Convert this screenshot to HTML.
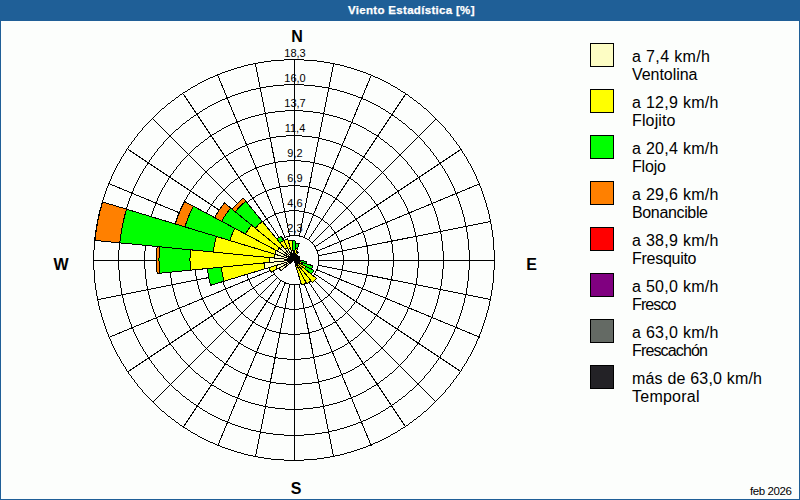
<!DOCTYPE html>
<html><head><meta charset="utf-8"><style>
html,body{margin:0;padding:0;width:800px;height:500px;overflow:hidden;background:#fcfefc;}
svg{position:absolute;left:0;top:0;font-family:"Liberation Sans",sans-serif;}
</style></head><body>
<svg width="800" height="500" viewBox="0 0 800 500">
<rect x="0" y="0" width="800" height="500" fill="#fcfefc"/>
<rect x="0" y="0" width="800" height="21" fill="#1f5f97"/>
<rect x="0" y="0" width="1" height="500" fill="#1f5f97"/>
<rect x="799" y="0" width="1" height="500" fill="#1f5f97"/>
<rect x="0" y="499" width="800" height="1" fill="#1f5f97"/>
<text x="348" y="14" font-size="11.5" font-weight="bold" fill="#fff" stroke="#fff" stroke-width="0.25" textLength="126.5" lengthAdjust="spacing">Viento Estadística [%]</text>
<g shape-rendering="crispEdges">
<path d="M284 59h20v1h-20zM271 60h13v1h-13zM304 60h13v1h-13zM264 61h7v1h-7zM317 61h7v1h-7zM258 62h6v1h-6zM324 62h6v1h-6zM253 63h5v1h-5zM330 63h5v1h-5zM248 64h5v1h-5zM335 64h5v1h-5zM244 65h4v1h-4zM340 65h4v1h-4zM241 66h3v1h-3zM344 66h3v1h-3zM237 67h4v1h-4zM347 67h4v1h-4zM234 68h3v1h-3zM351 68h3v1h-3zM231 69h3v1h-3zM354 69h3v1h-3zM228 70h3v1h-3zM357 70h3v1h-3zM225 71h3v1h-3zM360 71h3v1h-3zM222 72h3v1h-3zM363 72h3v1h-3zM220 73h2v1h-2zM366 73h2v1h-2zM217 74h3v1h-3zM368 74h3v1h-3zM215 75h2v1h-2zM371 75h2v1h-2zM213 76h2v1h-2zM373 76h2v1h-2zM210 77h3v1h-3zM375 77h3v1h-3zM208 78h2v1h-2zM378 78h2v1h-2zM206 79h2v1h-2zM380 79h2v1h-2zM204 80h2v1h-2zM382 80h2v1h-2zM202 81h2v1h-2zM384 81h2v1h-2zM200 82h2v1h-2zM386 82h2v1h-2zM198 83h2v1h-2zM388 83h2v1h-2zM197 84h1v1h-1zM284 84h20v1h-20zM390 84h1v1h-1zM195 85h2v1h-2zM273 85h11v1h-11zM304 85h11v1h-11zM391 85h2v1h-2zM193 86h2v1h-2zM266 86h7v1h-7zM315 86h7v1h-7zM393 86h2v1h-2zM191 87h2v1h-2zM260 87h6v1h-6zM322 87h6v1h-6zM395 87h2v1h-2zM190 88h1v1h-1zM256 88h4v1h-4zM328 88h4v1h-4zM397 88h1v1h-1zM188 89h2v1h-2zM251 89h5v1h-5zM332 89h5v1h-5zM398 89h2v1h-2zM187 90h1v1h-1zM248 90h3v1h-3zM337 90h3v1h-3zM400 90h1v1h-1zM185 91h2v1h-2zM244 91h4v1h-4zM340 91h4v1h-4zM401 91h2v1h-2zM183 92h2v1h-2zM241 92h3v1h-3zM344 92h3v1h-3zM403 92h2v1h-2zM182 93h1v1h-1zM238 93h3v1h-3zM347 93h3v1h-3zM405 93h1v1h-1zM180 94h2v1h-2zM235 94h3v1h-3zM350 94h3v1h-3zM406 94h2v1h-2zM179 95h1v1h-1zM232 95h3v1h-3zM353 95h3v1h-3zM408 95h1v1h-1zM178 96h1v1h-1zM230 96h2v1h-2zM356 96h2v1h-2zM409 96h1v1h-1zM176 97h2v1h-2zM227 97h3v1h-3zM358 97h3v1h-3zM410 97h2v1h-2zM175 98h1v1h-1zM225 98h2v1h-2zM361 98h2v1h-2zM412 98h1v1h-1zM174 99h1v1h-1zM222 99h3v1h-3zM363 99h3v1h-3zM413 99h1v1h-1zM172 100h2v1h-2zM220 100h2v1h-2zM366 100h2v1h-2zM414 100h2v1h-2zM171 101h1v1h-1zM218 101h2v1h-2zM368 101h2v1h-2zM416 101h1v1h-1zM170 102h1v1h-1zM216 102h2v1h-2zM370 102h2v1h-2zM417 102h1v1h-1zM168 103h2v1h-2zM214 103h2v1h-2zM372 103h2v1h-2zM418 103h2v1h-2zM167 104h1v1h-1zM212 104h2v1h-2zM374 104h2v1h-2zM420 104h1v1h-1zM166 105h1v1h-1zM210 105h2v1h-2zM376 105h2v1h-2zM421 105h1v1h-1zM165 106h1v1h-1zM208 106h2v1h-2zM378 106h2v1h-2zM422 106h1v1h-1zM164 107h1v1h-1zM207 107h1v1h-1zM380 107h1v1h-1zM423 107h1v1h-1zM162 108h2v1h-2zM205 108h2v1h-2zM381 108h2v1h-2zM424 108h2v1h-2zM161 109h1v1h-1zM203 109h2v1h-2zM383 109h2v1h-2zM426 109h1v1h-1zM160 110h1v1h-1zM202 110h1v1h-1zM285 110h18v1h-18zM385 110h1v1h-1zM427 110h1v1h-1zM159 111h1v1h-1zM200 111h2v1h-2zM275 111h10v1h-10zM303 111h10v1h-10zM386 111h2v1h-2zM428 111h1v1h-1zM158 112h1v1h-1zM199 112h1v1h-1zM268 112h7v1h-7zM313 112h7v1h-7zM388 112h1v1h-1zM429 112h1v1h-1zM157 113h1v1h-1zM197 113h2v1h-2zM263 113h5v1h-5zM320 113h5v1h-5zM389 113h2v1h-2zM430 113h1v1h-1zM156 114h1v1h-1zM196 114h1v1h-1zM259 114h4v1h-4zM325 114h4v1h-4zM391 114h1v1h-1zM431 114h1v1h-1zM155 115h1v1h-1zM194 115h2v1h-2zM255 115h4v1h-4zM329 115h4v1h-4zM392 115h2v1h-2zM432 115h1v1h-1zM154 116h1v1h-1zM193 116h1v1h-1zM251 116h4v1h-4zM333 116h4v1h-4zM394 116h1v1h-1zM433 116h1v1h-1zM153 117h1v1h-1zM191 117h2v1h-2zM248 117h3v1h-3zM337 117h3v1h-3zM395 117h2v1h-2zM434 117h1v1h-1zM152 118h1v1h-1zM190 118h1v1h-1zM245 118h3v1h-3zM340 118h3v1h-3zM397 118h1v1h-1zM435 118h1v1h-1zM151 119h1v1h-1zM189 119h1v1h-1zM242 119h3v1h-3zM343 119h3v1h-3zM398 119h1v1h-1zM436 119h1v1h-1zM150 120h1v1h-1zM187 120h2v1h-2zM240 120h2v1h-2zM346 120h2v1h-2zM399 120h2v1h-2zM437 120h1v1h-1zM149 121h1v1h-1zM186 121h1v1h-1zM237 121h3v1h-3zM348 121h3v1h-3zM401 121h1v1h-1zM438 121h1v1h-1zM148 122h1v1h-1zM185 122h1v1h-1zM235 122h2v1h-2zM351 122h2v1h-2zM402 122h1v1h-1zM439 122h1v1h-1zM147 123h1v1h-1zM183 123h2v1h-2zM232 123h3v1h-3zM353 123h3v1h-3zM403 123h2v1h-2zM440 123h1v1h-1zM146 124h1v1h-1zM182 124h1v1h-1zM230 124h2v1h-2zM356 124h2v1h-2zM405 124h1v1h-1zM441 124h1v1h-1zM145 125h1v1h-1zM181 125h1v1h-1zM228 125h2v1h-2zM358 125h2v1h-2zM406 125h1v1h-1zM442 125h1v1h-1zM144 126h1v1h-1zM180 126h1v1h-1zM226 126h2v1h-2zM360 126h2v1h-2zM407 126h1v1h-1zM443 126h1v1h-1zM143 127h1v1h-1zM179 127h1v1h-1zM224 127h2v1h-2zM362 127h2v1h-2zM408 127h1v1h-1zM444 127h1v1h-1zM142 128h1v1h-1zM178 128h1v1h-1zM222 128h2v1h-2zM364 128h2v1h-2zM409 128h1v1h-1zM445 128h1v1h-1zM142 129h1v1h-1zM176 129h2v1h-2zM221 129h1v1h-1zM366 129h1v1h-1zM410 129h2v1h-2zM445 129h1v1h-1zM141 130h1v1h-1zM175 130h1v1h-1zM219 130h2v1h-2zM367 130h2v1h-2zM412 130h1v1h-1zM446 130h1v1h-1zM140 131h1v1h-1zM174 131h1v1h-1zM217 131h2v1h-2zM369 131h2v1h-2zM413 131h1v1h-1zM447 131h1v1h-1zM139 132h1v1h-1zM173 132h1v1h-1zM216 132h1v1h-1zM371 132h1v1h-1zM414 132h1v1h-1zM448 132h1v1h-1zM138 133h1v1h-1zM172 133h1v1h-1zM214 133h2v1h-2zM372 133h2v1h-2zM415 133h1v1h-1zM449 133h1v1h-1zM137 134h1v1h-1zM171 134h1v1h-1zM212 134h2v1h-2zM374 134h2v1h-2zM416 134h1v1h-1zM450 134h1v1h-1zM137 135h1v1h-1zM170 135h1v1h-1zM211 135h1v1h-1zM286 135h16v1h-16zM376 135h1v1h-1zM417 135h1v1h-1zM450 135h1v1h-1zM136 136h1v1h-1zM169 136h1v1h-1zM209 136h2v1h-2zM276 136h10v1h-10zM302 136h10v1h-10zM377 136h2v1h-2zM418 136h1v1h-1zM451 136h1v1h-1zM135 137h1v1h-1zM168 137h1v1h-1zM208 137h1v1h-1zM270 137h6v1h-6zM312 137h6v1h-6zM379 137h1v1h-1zM419 137h1v1h-1zM452 137h1v1h-1zM134 138h1v1h-1zM167 138h1v1h-1zM207 138h1v1h-1zM266 138h4v1h-4zM318 138h4v1h-4zM380 138h1v1h-1zM420 138h1v1h-1zM453 138h1v1h-1zM134 139h1v1h-1zM166 139h1v1h-1zM205 139h2v1h-2zM262 139h4v1h-4zM322 139h4v1h-4zM381 139h2v1h-2zM421 139h1v1h-1zM453 139h1v1h-1zM133 140h1v1h-1zM165 140h1v1h-1zM204 140h1v1h-1zM258 140h4v1h-4zM326 140h4v1h-4zM383 140h1v1h-1zM422 140h1v1h-1zM454 140h1v1h-1zM132 141h1v1h-1zM164 141h1v1h-1zM203 141h1v1h-1zM255 141h3v1h-3zM330 141h3v1h-3zM384 141h1v1h-1zM423 141h1v1h-1zM455 141h1v1h-1zM131 142h1v1h-1zM163 142h1v1h-1zM201 142h2v1h-2zM252 142h3v1h-3zM333 142h3v1h-3zM385 142h2v1h-2zM424 142h1v1h-1zM456 142h1v1h-1zM131 143h1v1h-1zM163 143h1v1h-1zM200 143h1v1h-1zM249 143h3v1h-3zM336 143h3v1h-3zM387 143h1v1h-1zM424 143h1v1h-1zM456 143h1v1h-1zM130 144h1v1h-1zM162 144h1v1h-1zM199 144h1v1h-1zM247 144h2v1h-2zM339 144h2v1h-2zM388 144h1v1h-1zM425 144h1v1h-1zM457 144h1v1h-1zM129 145h1v1h-1zM161 145h1v1h-1zM198 145h1v1h-1zM245 145h2v1h-2zM341 145h2v1h-2zM389 145h1v1h-1zM426 145h1v1h-1zM458 145h1v1h-1zM128 146h1v1h-1zM160 146h1v1h-1zM196 146h2v1h-2zM242 146h3v1h-3zM343 146h3v1h-3zM390 146h2v1h-2zM427 146h1v1h-1zM459 146h1v1h-1zM128 147h1v1h-1zM159 147h1v1h-1zM195 147h1v1h-1zM240 147h2v1h-2zM346 147h2v1h-2zM392 147h1v1h-1zM428 147h1v1h-1zM459 147h1v1h-1zM127 148h1v1h-1zM158 148h1v1h-1zM194 148h1v1h-1zM238 148h2v1h-2zM348 148h2v1h-2zM393 148h1v1h-1zM429 148h1v1h-1zM460 148h1v1h-1zM126 149h1v1h-1zM157 149h1v1h-1zM193 149h1v1h-1zM236 149h2v1h-2zM350 149h2v1h-2zM394 149h1v1h-1zM430 149h1v1h-1zM461 149h1v1h-1zM126 150h1v1h-1zM157 150h1v1h-1zM192 150h1v1h-1zM234 150h2v1h-2zM352 150h2v1h-2zM395 150h1v1h-1zM430 150h1v1h-1zM461 150h1v1h-1zM125 151h1v1h-1zM156 151h1v1h-1zM191 151h1v1h-1zM233 151h1v1h-1zM354 151h1v1h-1zM396 151h1v1h-1zM431 151h1v1h-1zM462 151h1v1h-1zM125 152h1v1h-1zM155 152h1v1h-1zM190 152h1v1h-1zM231 152h2v1h-2zM355 152h2v1h-2zM397 152h1v1h-1zM432 152h1v1h-1zM462 152h1v1h-1zM124 153h1v1h-1zM154 153h1v1h-1zM189 153h1v1h-1zM229 153h2v1h-2zM357 153h2v1h-2zM398 153h1v1h-1zM433 153h1v1h-1zM463 153h1v1h-1zM123 154h1v1h-1zM154 154h1v1h-1zM188 154h1v1h-1zM228 154h1v1h-1zM359 154h1v1h-1zM399 154h1v1h-1zM433 154h1v1h-1zM464 154h1v1h-1zM123 155h1v1h-1zM153 155h1v1h-1zM187 155h1v1h-1zM226 155h2v1h-2zM360 155h2v1h-2zM400 155h1v1h-1zM434 155h1v1h-1zM464 155h1v1h-1zM122 156h1v1h-1zM152 156h1v1h-1zM186 156h1v1h-1zM224 156h2v1h-2zM362 156h2v1h-2zM401 156h1v1h-1zM435 156h1v1h-1zM465 156h1v1h-1zM121 157h1v1h-1zM151 157h1v1h-1zM185 157h1v1h-1zM223 157h1v1h-1zM364 157h1v1h-1zM402 157h1v1h-1zM436 157h1v1h-1zM466 157h1v1h-1zM121 158h1v1h-1zM151 158h1v1h-1zM184 158h1v1h-1zM222 158h1v1h-1zM365 158h1v1h-1zM403 158h1v1h-1zM436 158h1v1h-1zM466 158h1v1h-1zM120 159h1v1h-1zM150 159h1v1h-1zM183 159h1v1h-1zM220 159h2v1h-2zM366 159h2v1h-2zM404 159h1v1h-1zM437 159h1v1h-1zM467 159h1v1h-1zM120 160h1v1h-1zM149 160h1v1h-1zM182 160h1v1h-1zM219 160h1v1h-1zM287 160h14v1h-14zM368 160h1v1h-1zM405 160h1v1h-1zM438 160h1v1h-1zM467 160h1v1h-1zM119 161h1v1h-1zM149 161h1v1h-1zM181 161h1v1h-1zM218 161h1v1h-1zM278 161h9v1h-9zM301 161h9v1h-9zM369 161h1v1h-1zM406 161h1v1h-1zM438 161h1v1h-1zM468 161h1v1h-1zM119 162h1v1h-1zM148 162h1v1h-1zM180 162h1v1h-1zM216 162h2v1h-2zM273 162h5v1h-5zM310 162h5v1h-5zM370 162h2v1h-2zM407 162h1v1h-1zM439 162h1v1h-1zM468 162h1v1h-1zM118 163h1v1h-1zM147 163h1v1h-1zM180 163h1v1h-1zM215 163h1v1h-1zM269 163h4v1h-4zM315 163h4v1h-4zM372 163h1v1h-1zM407 163h1v1h-1zM440 163h1v1h-1zM469 163h1v1h-1zM117 164h1v1h-1zM147 164h1v1h-1zM179 164h1v1h-1zM214 164h1v1h-1zM265 164h4v1h-4zM319 164h4v1h-4zM373 164h1v1h-1zM408 164h1v1h-1zM440 164h1v1h-1zM470 164h1v1h-1zM117 165h1v1h-1zM146 165h1v1h-1zM178 165h1v1h-1zM213 165h1v1h-1zM262 165h3v1h-3zM323 165h3v1h-3zM374 165h1v1h-1zM409 165h1v1h-1zM441 165h1v1h-1zM470 165h1v1h-1zM116 166h1v1h-1zM145 166h1v1h-1zM177 166h1v1h-1zM212 166h1v1h-1zM259 166h3v1h-3zM326 166h3v1h-3zM375 166h1v1h-1zM410 166h1v1h-1zM442 166h1v1h-1zM471 166h1v1h-1zM116 167h1v1h-1zM145 167h1v1h-1zM176 167h1v1h-1zM210 167h2v1h-2zM257 167h2v1h-2zM329 167h2v1h-2zM376 167h2v1h-2zM411 167h1v1h-1zM442 167h1v1h-1zM471 167h1v1h-1zM115 168h1v1h-1zM144 168h1v1h-1zM176 168h1v1h-1zM209 168h1v1h-1zM254 168h3v1h-3zM331 168h3v1h-3zM378 168h1v1h-1zM411 168h1v1h-1zM443 168h1v1h-1zM472 168h1v1h-1zM115 169h1v1h-1zM143 169h1v1h-1zM175 169h1v1h-1zM208 169h1v1h-1zM252 169h2v1h-2zM334 169h2v1h-2zM379 169h1v1h-1zM412 169h1v1h-1zM444 169h1v1h-1zM472 169h1v1h-1zM114 170h1v1h-1zM143 170h1v1h-1zM174 170h1v1h-1zM207 170h1v1h-1zM250 170h2v1h-2zM336 170h2v1h-2zM380 170h1v1h-1zM413 170h1v1h-1zM444 170h1v1h-1zM473 170h1v1h-1zM114 171h1v1h-1zM142 171h1v1h-1zM173 171h1v1h-1zM206 171h1v1h-1zM248 171h2v1h-2zM338 171h2v1h-2zM381 171h1v1h-1zM414 171h1v1h-1zM445 171h1v1h-1zM473 171h1v1h-1zM113 172h1v1h-1zM142 172h1v1h-1zM173 172h1v1h-1zM205 172h1v1h-1zM246 172h2v1h-2zM340 172h2v1h-2zM382 172h1v1h-1zM414 172h1v1h-1zM445 172h1v1h-1zM474 172h1v1h-1zM113 173h1v1h-1zM141 173h1v1h-1zM172 173h1v1h-1zM204 173h1v1h-1zM244 173h2v1h-2zM342 173h2v1h-2zM383 173h1v1h-1zM415 173h1v1h-1zM446 173h1v1h-1zM474 173h1v1h-1zM112 174h1v1h-1zM140 174h1v1h-1zM171 174h1v1h-1zM203 174h1v1h-1zM243 174h1v1h-1zM344 174h1v1h-1zM384 174h1v1h-1zM416 174h1v1h-1zM447 174h1v1h-1zM475 174h1v1h-1zM112 175h1v1h-1zM140 175h1v1h-1zM170 175h1v1h-1zM202 175h1v1h-1zM241 175h2v1h-2zM345 175h2v1h-2zM385 175h1v1h-1zM417 175h1v1h-1zM447 175h1v1h-1zM475 175h1v1h-1zM111 176h1v1h-1zM139 176h1v1h-1zM170 176h1v1h-1zM201 176h1v1h-1zM240 176h1v1h-1zM347 176h1v1h-1zM386 176h1v1h-1zM417 176h1v1h-1zM448 176h1v1h-1zM476 176h1v1h-1zM111 177h1v1h-1zM139 177h1v1h-1zM169 177h1v1h-1zM201 177h1v1h-1zM238 177h2v1h-2zM348 177h2v1h-2zM386 177h1v1h-1zM418 177h1v1h-1zM448 177h1v1h-1zM476 177h1v1h-1zM111 178h1v1h-1zM138 178h1v1h-1zM168 178h1v1h-1zM200 178h1v1h-1zM237 178h1v1h-1zM350 178h1v1h-1zM387 178h1v1h-1zM419 178h1v1h-1zM449 178h1v1h-1zM476 178h1v1h-1zM110 179h1v1h-1zM138 179h1v1h-1zM168 179h1v1h-1zM199 179h1v1h-1zM235 179h2v1h-2zM351 179h2v1h-2zM388 179h1v1h-1zM419 179h1v1h-1zM449 179h1v1h-1zM477 179h1v1h-1zM110 180h1v1h-1zM137 180h1v1h-1zM167 180h1v1h-1zM198 180h1v1h-1zM234 180h1v1h-1zM353 180h1v1h-1zM389 180h1v1h-1zM420 180h1v1h-1zM450 180h1v1h-1zM477 180h1v1h-1zM109 181h1v1h-1zM137 181h1v1h-1zM167 181h1v1h-1zM197 181h1v1h-1zM233 181h1v1h-1zM354 181h1v1h-1zM390 181h1v1h-1zM420 181h1v1h-1zM450 181h1v1h-1zM478 181h1v1h-1zM109 182h1v1h-1zM136 182h1v1h-1zM166 182h1v1h-1zM196 182h1v1h-1zM231 182h2v1h-2zM355 182h2v1h-2zM391 182h1v1h-1zM421 182h1v1h-1zM451 182h1v1h-1zM478 182h1v1h-1zM108 183h1v1h-1zM136 183h1v1h-1zM165 183h1v1h-1zM196 183h1v1h-1zM230 183h1v1h-1zM357 183h1v1h-1zM391 183h1v1h-1zM422 183h1v1h-1zM451 183h1v1h-1zM479 183h1v1h-1zM108 184h1v1h-1zM135 184h1v1h-1zM165 184h1v1h-1zM195 184h1v1h-1zM229 184h1v1h-1zM358 184h1v1h-1zM392 184h1v1h-1zM422 184h1v1h-1zM452 184h1v1h-1zM479 184h1v1h-1zM108 185h1v1h-1zM135 185h1v1h-1zM164 185h1v1h-1zM194 185h1v1h-1zM228 185h1v1h-1zM288 185h12v1h-12zM359 185h1v1h-1zM393 185h1v1h-1zM423 185h1v1h-1zM452 185h1v1h-1zM479 185h1v1h-1zM107 186h1v1h-1zM134 186h1v1h-1zM164 186h1v1h-1zM193 186h1v1h-1zM227 186h1v1h-1zM280 186h8v1h-8zM300 186h8v1h-8zM360 186h1v1h-1zM394 186h1v1h-1zM423 186h1v1h-1zM453 186h1v1h-1zM480 186h1v1h-1zM107 187h1v1h-1zM134 187h1v1h-1zM163 187h1v1h-1zM193 187h1v1h-1zM226 187h1v1h-1zM276 187h4v1h-4zM308 187h4v1h-4zM361 187h1v1h-1zM394 187h1v1h-1zM424 187h1v1h-1zM453 187h1v1h-1zM480 187h1v1h-1zM106 188h1v1h-1zM133 188h1v1h-1zM162 188h1v1h-1zM192 188h1v1h-1zM225 188h1v1h-1zM272 188h4v1h-4zM312 188h4v1h-4zM362 188h1v1h-1zM395 188h1v1h-1zM425 188h1v1h-1zM454 188h1v1h-1zM481 188h1v1h-1zM106 189h1v1h-1zM133 189h1v1h-1zM162 189h1v1h-1zM191 189h1v1h-1zM224 189h1v1h-1zM269 189h3v1h-3zM316 189h3v1h-3zM363 189h1v1h-1zM396 189h1v1h-1zM425 189h1v1h-1zM454 189h1v1h-1zM481 189h1v1h-1zM106 190h1v1h-1zM133 190h1v1h-1zM161 190h1v1h-1zM190 190h1v1h-1zM223 190h1v1h-1zM267 190h2v1h-2zM319 190h2v1h-2zM364 190h1v1h-1zM397 190h1v1h-1zM426 190h1v1h-1zM454 190h1v1h-1zM481 190h1v1h-1zM105 191h1v1h-1zM132 191h1v1h-1zM161 191h1v1h-1zM190 191h1v1h-1zM222 191h1v1h-1zM264 191h3v1h-3zM321 191h3v1h-3zM365 191h1v1h-1zM397 191h1v1h-1zM426 191h1v1h-1zM455 191h1v1h-1zM482 191h1v1h-1zM105 192h1v1h-1zM132 192h1v1h-1zM160 192h1v1h-1zM189 192h1v1h-1zM221 192h1v1h-1zM262 192h2v1h-2zM324 192h2v1h-2zM366 192h1v1h-1zM398 192h1v1h-1zM427 192h1v1h-1zM455 192h1v1h-1zM482 192h1v1h-1zM105 193h1v1h-1zM131 193h1v1h-1zM160 193h1v1h-1zM189 193h1v1h-1zM220 193h1v1h-1zM260 193h2v1h-2zM326 193h2v1h-2zM367 193h1v1h-1zM398 193h1v1h-1zM427 193h1v1h-1zM456 193h1v1h-1zM482 193h1v1h-1zM104 194h1v1h-1zM131 194h1v1h-1zM159 194h1v1h-1zM188 194h1v1h-1zM219 194h1v1h-1zM258 194h2v1h-2zM328 194h2v1h-2zM368 194h1v1h-1zM399 194h1v1h-1zM428 194h1v1h-1zM456 194h1v1h-1zM483 194h1v1h-1zM104 195h1v1h-1zM131 195h1v1h-1zM159 195h1v1h-1zM187 195h1v1h-1zM218 195h1v1h-1zM256 195h2v1h-2zM330 195h2v1h-2zM369 195h1v1h-1zM400 195h1v1h-1zM428 195h1v1h-1zM456 195h1v1h-1zM483 195h1v1h-1zM104 196h1v1h-1zM130 196h1v1h-1zM158 196h1v1h-1zM187 196h1v1h-1zM217 196h1v1h-1zM255 196h1v1h-1zM332 196h1v1h-1zM370 196h1v1h-1zM400 196h1v1h-1zM429 196h1v1h-1zM457 196h1v1h-1zM483 196h1v1h-1zM103 197h1v1h-1zM130 197h1v1h-1zM158 197h1v1h-1zM186 197h1v1h-1zM216 197h1v1h-1zM253 197h2v1h-2zM333 197h2v1h-2zM371 197h1v1h-1zM401 197h1v1h-1zM429 197h1v1h-1zM457 197h1v1h-1zM484 197h1v1h-1zM103 198h1v1h-1zM129 198h1v1h-1zM157 198h1v1h-1zM186 198h1v1h-1zM216 198h1v1h-1zM252 198h1v1h-1zM335 198h1v1h-1zM371 198h1v1h-1zM401 198h1v1h-1zM430 198h1v1h-1zM458 198h1v1h-1zM484 198h1v1h-1zM103 199h1v1h-1zM129 199h1v1h-1zM157 199h1v1h-1zM185 199h1v1h-1zM215 199h1v1h-1zM250 199h2v1h-2zM336 199h2v1h-2zM372 199h1v1h-1zM402 199h1v1h-1zM430 199h1v1h-1zM458 199h1v1h-1zM484 199h1v1h-1zM102 200h1v1h-1zM129 200h1v1h-1zM157 200h1v1h-1zM184 200h1v1h-1zM214 200h1v1h-1zM249 200h1v1h-1zM338 200h1v1h-1zM373 200h1v1h-1zM403 200h1v1h-1zM430 200h1v1h-1zM458 200h1v1h-1zM485 200h1v1h-1zM102 201h1v1h-1zM128 201h1v1h-1zM156 201h1v1h-1zM184 201h1v1h-1zM213 201h1v1h-1zM248 201h1v1h-1zM339 201h1v1h-1zM374 201h1v1h-1zM403 201h1v1h-1zM431 201h1v1h-1zM459 201h1v1h-1zM485 201h1v1h-1zM102 202h1v1h-1zM128 202h1v1h-1zM156 202h1v1h-1zM183 202h1v1h-1zM213 202h1v1h-1zM246 202h2v1h-2zM340 202h2v1h-2zM374 202h1v1h-1zM404 202h1v1h-1zM431 202h1v1h-1zM459 202h1v1h-1zM485 202h1v1h-1zM101 203h1v1h-1zM128 203h1v1h-1zM155 203h1v1h-1zM183 203h1v1h-1zM212 203h1v1h-1zM245 203h1v1h-1zM342 203h1v1h-1zM375 203h1v1h-1zM404 203h1v1h-1zM432 203h1v1h-1zM459 203h1v1h-1zM486 203h1v1h-1zM101 204h1v1h-1zM127 204h1v1h-1zM155 204h1v1h-1zM182 204h1v1h-1zM211 204h1v1h-1zM244 204h1v1h-1zM343 204h1v1h-1zM376 204h1v1h-1zM405 204h1v1h-1zM432 204h1v1h-1zM460 204h1v1h-1zM486 204h1v1h-1zM101 205h1v1h-1zM127 205h1v1h-1zM155 205h1v1h-1zM182 205h1v1h-1zM211 205h1v1h-1zM243 205h1v1h-1zM344 205h1v1h-1zM376 205h1v1h-1zM405 205h1v1h-1zM432 205h1v1h-1zM460 205h1v1h-1zM486 205h1v1h-1zM101 206h1v1h-1zM127 206h1v1h-1zM154 206h1v1h-1zM181 206h1v1h-1zM210 206h1v1h-1zM242 206h1v1h-1zM345 206h1v1h-1zM377 206h1v1h-1zM406 206h1v1h-1zM433 206h1v1h-1zM460 206h1v1h-1zM486 206h1v1h-1zM100 207h1v1h-1zM126 207h1v1h-1zM154 207h1v1h-1zM181 207h1v1h-1zM209 207h1v1h-1zM241 207h1v1h-1zM346 207h1v1h-1zM378 207h1v1h-1zM406 207h1v1h-1zM433 207h1v1h-1zM461 207h1v1h-1zM487 207h1v1h-1zM100 208h1v1h-1zM126 208h1v1h-1zM153 208h1v1h-1zM180 208h1v1h-1zM209 208h1v1h-1zM240 208h1v1h-1zM347 208h1v1h-1zM378 208h1v1h-1zM407 208h1v1h-1zM434 208h1v1h-1zM461 208h1v1h-1zM487 208h1v1h-1zM100 209h1v1h-1zM126 209h1v1h-1zM153 209h1v1h-1zM180 209h1v1h-1zM208 209h1v1h-1zM239 209h1v1h-1zM348 209h1v1h-1zM379 209h1v1h-1zM407 209h1v1h-1zM434 209h1v1h-1zM461 209h1v1h-1zM487 209h1v1h-1zM99 210h1v1h-1zM125 210h1v1h-1zM153 210h1v1h-1zM180 210h1v1h-1zM207 210h1v1h-1zM238 210h1v1h-1zM289 210h10v1h-10zM349 210h1v1h-1zM380 210h1v1h-1zM407 210h1v1h-1zM434 210h1v1h-1zM462 210h1v1h-1zM488 210h1v1h-1zM99 211h1v1h-1zM125 211h1v1h-1zM152 211h1v1h-1zM179 211h1v1h-1zM207 211h1v1h-1zM237 211h1v1h-1zM283 211h6v1h-6zM299 211h6v1h-6zM350 211h1v1h-1zM380 211h1v1h-1zM408 211h1v1h-1zM435 211h1v1h-1zM462 211h1v1h-1zM488 211h1v1h-1zM99 212h1v1h-1zM125 212h1v1h-1zM152 212h1v1h-1zM179 212h1v1h-1zM206 212h1v1h-1zM236 212h1v1h-1zM279 212h4v1h-4zM305 212h4v1h-4zM351 212h1v1h-1zM381 212h1v1h-1zM408 212h1v1h-1zM435 212h1v1h-1zM462 212h1v1h-1zM488 212h1v1h-1zM99 213h1v1h-1zM125 213h1v1h-1zM152 213h1v1h-1zM178 213h1v1h-1zM206 213h1v1h-1zM236 213h1v1h-1zM276 213h3v1h-3zM309 213h3v1h-3zM351 213h1v1h-1zM381 213h1v1h-1zM409 213h1v1h-1zM435 213h1v1h-1zM462 213h1v1h-1zM488 213h1v1h-1zM98 214h1v1h-1zM124 214h1v1h-1zM151 214h1v1h-1zM178 214h1v1h-1zM205 214h1v1h-1zM235 214h1v1h-1zM274 214h2v1h-2zM312 214h2v1h-2zM352 214h1v1h-1zM382 214h1v1h-1zM409 214h1v1h-1zM436 214h1v1h-1zM463 214h1v1h-1zM489 214h1v1h-1zM98 215h1v1h-1zM124 215h1v1h-1zM151 215h1v1h-1zM177 215h1v1h-1zM205 215h1v1h-1zM234 215h1v1h-1zM272 215h2v1h-2zM314 215h2v1h-2zM353 215h1v1h-1zM382 215h1v1h-1zM410 215h1v1h-1zM436 215h1v1h-1zM463 215h1v1h-1zM489 215h1v1h-1zM98 216h1v1h-1zM124 216h1v1h-1zM151 216h1v1h-1zM177 216h1v1h-1zM204 216h1v1h-1zM233 216h1v1h-1zM270 216h2v1h-2zM316 216h2v1h-2zM354 216h1v1h-1zM383 216h1v1h-1zM410 216h1v1h-1zM436 216h1v1h-1zM463 216h1v1h-1zM489 216h1v1h-1zM98 217h1v1h-1zM123 217h1v1h-1zM150 217h1v1h-1zM177 217h1v1h-1zM204 217h1v1h-1zM233 217h1v1h-1zM268 217h2v1h-2zM318 217h2v1h-2zM354 217h1v1h-1zM383 217h1v1h-1zM410 217h1v1h-1zM437 217h1v1h-1zM464 217h1v1h-1zM489 217h1v1h-1zM98 218h1v1h-1zM123 218h1v1h-1zM150 218h1v1h-1zM176 218h1v1h-1zM203 218h1v1h-1zM232 218h1v1h-1zM267 218h1v1h-1zM320 218h1v1h-1zM355 218h1v1h-1zM384 218h1v1h-1zM411 218h1v1h-1zM437 218h1v1h-1zM464 218h1v1h-1zM489 218h1v1h-1zM97 219h1v1h-1zM123 219h1v1h-1zM150 219h1v1h-1zM176 219h1v1h-1zM203 219h1v1h-1zM231 219h1v1h-1zM265 219h2v1h-2zM321 219h2v1h-2zM356 219h1v1h-1zM384 219h1v1h-1zM411 219h1v1h-1zM437 219h1v1h-1zM464 219h1v1h-1zM490 219h1v1h-1zM97 220h1v1h-1zM123 220h1v1h-1zM150 220h1v1h-1zM176 220h1v1h-1zM202 220h1v1h-1zM231 220h1v1h-1zM264 220h1v1h-1zM323 220h1v1h-1zM356 220h1v1h-1zM385 220h1v1h-1zM411 220h1v1h-1zM437 220h1v1h-1zM464 220h1v1h-1zM490 220h1v1h-1zM97 221h1v1h-1zM123 221h1v1h-1zM149 221h1v1h-1zM175 221h1v1h-1zM202 221h1v1h-1zM230 221h1v1h-1zM263 221h1v1h-1zM324 221h1v1h-1zM357 221h1v1h-1zM385 221h1v1h-1zM412 221h1v1h-1zM438 221h1v1h-1zM464 221h1v1h-1zM490 221h1v1h-1zM97 222h1v1h-1zM122 222h1v1h-1zM149 222h1v1h-1zM175 222h1v1h-1zM202 222h1v1h-1zM229 222h1v1h-1zM261 222h2v1h-2zM325 222h2v1h-2zM358 222h1v1h-1zM385 222h1v1h-1zM412 222h1v1h-1zM438 222h1v1h-1zM465 222h1v1h-1zM490 222h1v1h-1zM97 223h1v1h-1zM122 223h1v1h-1zM149 223h1v1h-1zM175 223h1v1h-1zM201 223h1v1h-1zM229 223h1v1h-1zM260 223h1v1h-1zM327 223h1v1h-1zM358 223h1v1h-1zM386 223h1v1h-1zM412 223h1v1h-1zM438 223h1v1h-1zM465 223h1v1h-1zM490 223h1v1h-1zM96 224h1v1h-1zM122 224h1v1h-1zM149 224h1v1h-1zM174 224h1v1h-1zM201 224h1v1h-1zM228 224h1v1h-1zM259 224h1v1h-1zM328 224h1v1h-1zM359 224h1v1h-1zM386 224h1v1h-1zM413 224h1v1h-1zM438 224h1v1h-1zM465 224h1v1h-1zM491 224h1v1h-1zM96 225h1v1h-1zM122 225h1v1h-1zM148 225h1v1h-1zM174 225h1v1h-1zM200 225h1v1h-1zM228 225h1v1h-1zM258 225h1v1h-1zM329 225h1v1h-1zM359 225h1v1h-1zM387 225h1v1h-1zM413 225h1v1h-1zM439 225h1v1h-1zM465 225h1v1h-1zM491 225h1v1h-1zM96 226h1v1h-1zM121 226h1v1h-1zM148 226h1v1h-1zM174 226h1v1h-1zM200 226h1v1h-1zM227 226h1v1h-1zM257 226h1v1h-1zM330 226h1v1h-1zM360 226h1v1h-1zM387 226h1v1h-1zM413 226h1v1h-1zM439 226h1v1h-1zM466 226h1v1h-1zM491 226h1v1h-1zM96 227h1v1h-1zM121 227h1v1h-1zM148 227h1v1h-1zM174 227h1v1h-1zM200 227h1v1h-1zM227 227h1v1h-1zM256 227h1v1h-1zM331 227h1v1h-1zM360 227h1v1h-1zM387 227h1v1h-1zM413 227h1v1h-1zM439 227h1v1h-1zM466 227h1v1h-1zM491 227h1v1h-1zM96 228h1v1h-1zM121 228h1v1h-1zM148 228h1v1h-1zM173 228h1v1h-1zM199 228h1v1h-1zM226 228h1v1h-1zM256 228h1v1h-1zM331 228h1v1h-1zM361 228h1v1h-1zM388 228h1v1h-1zM414 228h1v1h-1zM439 228h1v1h-1zM466 228h1v1h-1zM491 228h1v1h-1zM96 229h1v1h-1zM121 229h1v1h-1zM147 229h1v1h-1zM173 229h1v1h-1zM199 229h1v1h-1zM226 229h1v1h-1zM255 229h1v1h-1zM332 229h1v1h-1zM361 229h1v1h-1zM388 229h1v1h-1zM414 229h1v1h-1zM440 229h1v1h-1zM466 229h1v1h-1zM491 229h1v1h-1zM95 230h1v1h-1zM121 230h1v1h-1zM147 230h1v1h-1zM173 230h1v1h-1zM199 230h1v1h-1zM225 230h1v1h-1zM254 230h1v1h-1zM333 230h1v1h-1zM362 230h1v1h-1zM388 230h1v1h-1zM414 230h1v1h-1zM440 230h1v1h-1zM466 230h1v1h-1zM492 230h1v1h-1zM95 231h1v1h-1zM121 231h1v1h-1zM147 231h1v1h-1zM173 231h1v1h-1zM198 231h1v1h-1zM225 231h1v1h-1zM253 231h1v1h-1zM334 231h1v1h-1zM362 231h1v1h-1zM389 231h1v1h-1zM414 231h1v1h-1zM440 231h1v1h-1zM466 231h1v1h-1zM492 231h1v1h-1zM95 232h1v1h-1zM120 232h1v1h-1zM147 232h1v1h-1zM172 232h1v1h-1zM198 232h1v1h-1zM225 232h1v1h-1zM253 232h1v1h-1zM334 232h1v1h-1zM362 232h1v1h-1zM389 232h1v1h-1zM415 232h1v1h-1zM440 232h1v1h-1zM467 232h1v1h-1zM492 232h1v1h-1zM95 233h1v1h-1zM120 233h1v1h-1zM147 233h1v1h-1zM172 233h1v1h-1zM198 233h1v1h-1zM224 233h1v1h-1zM252 233h1v1h-1zM335 233h1v1h-1zM363 233h1v1h-1zM389 233h1v1h-1zM415 233h1v1h-1zM440 233h1v1h-1zM467 233h1v1h-1zM492 233h1v1h-1zM95 234h1v1h-1zM120 234h1v1h-1zM146 234h1v1h-1zM172 234h1v1h-1zM198 234h1v1h-1zM224 234h1v1h-1zM251 234h1v1h-1zM336 234h1v1h-1zM363 234h1v1h-1zM389 234h1v1h-1zM415 234h1v1h-1zM441 234h1v1h-1zM467 234h1v1h-1zM492 234h1v1h-1zM95 235h1v1h-1zM120 235h1v1h-1zM146 235h1v1h-1zM172 235h1v1h-1zM197 235h1v1h-1zM223 235h1v1h-1zM251 235h1v1h-1zM289 235h11v1h-11zM336 235h1v1h-1zM364 235h1v1h-1zM390 235h1v1h-1zM415 235h1v1h-1zM441 235h1v1h-1zM467 235h1v1h-1zM492 235h1v1h-1zM95 236h1v1h-1zM120 236h1v1h-1zM146 236h1v1h-1zM171 236h1v1h-1zM197 236h1v1h-1zM223 236h1v1h-1zM250 236h1v1h-1zM286 236h3v1h-3zM300 236h3v1h-3zM337 236h1v1h-1zM364 236h1v1h-1zM390 236h1v1h-1zM416 236h1v1h-1zM441 236h1v1h-1zM467 236h1v1h-1zM492 236h1v1h-1zM94 237h1v1h-1zM120 237h1v1h-1zM146 237h1v1h-1zM171 237h1v1h-1zM197 237h1v1h-1zM223 237h1v1h-1zM250 237h1v1h-1zM284 237h2v1h-2zM303 237h2v1h-2zM337 237h1v1h-1zM364 237h1v1h-1zM390 237h1v1h-1zM416 237h1v1h-1zM441 237h1v1h-1zM467 237h1v1h-1zM493 237h1v1h-1zM94 238h1v1h-1zM120 238h1v1h-1zM146 238h1v1h-1zM171 238h1v1h-1zM197 238h1v1h-1zM222 238h1v1h-1zM249 238h1v1h-1zM282 238h2v1h-2zM305 238h2v1h-2zM338 238h1v1h-1zM365 238h1v1h-1zM390 238h1v1h-1zM416 238h1v1h-1zM441 238h1v1h-1zM467 238h1v1h-1zM493 238h1v1h-1zM94 239h1v1h-1zM119 239h1v1h-1zM146 239h1v1h-1zM171 239h1v1h-1zM196 239h1v1h-1zM222 239h1v1h-1zM249 239h1v1h-1zM280 239h2v1h-2zM307 239h2v1h-2zM338 239h1v1h-1zM365 239h1v1h-1zM391 239h1v1h-1zM416 239h1v1h-1zM441 239h1v1h-1zM468 239h1v1h-1zM493 239h1v1h-1zM94 240h1v1h-1zM119 240h1v1h-1zM146 240h1v1h-1zM171 240h1v1h-1zM196 240h1v1h-1zM222 240h1v1h-1zM248 240h1v1h-1zM279 240h1v1h-1zM309 240h1v1h-1zM339 240h1v1h-1zM365 240h1v1h-1zM391 240h1v1h-1zM416 240h1v1h-1zM441 240h1v1h-1zM468 240h1v1h-1zM493 240h1v1h-1zM94 241h1v1h-1zM119 241h1v1h-1zM145 241h1v1h-1zM171 241h1v1h-1zM196 241h1v1h-1zM222 241h1v1h-1zM248 241h1v1h-1zM278 241h1v1h-1zM310 241h1v1h-1zM339 241h1v1h-1zM365 241h1v1h-1zM391 241h1v1h-1zM416 241h1v1h-1zM442 241h1v1h-1zM468 241h1v1h-1zM493 241h1v1h-1zM94 242h1v1h-1zM119 242h1v1h-1zM145 242h1v1h-1zM170 242h1v1h-1zM196 242h1v1h-1zM221 242h1v1h-1zM247 242h1v1h-1zM277 242h1v1h-1zM311 242h1v1h-1zM340 242h1v1h-1zM366 242h1v1h-1zM391 242h1v1h-1zM417 242h1v1h-1zM442 242h1v1h-1zM468 242h1v1h-1zM493 242h1v1h-1zM94 243h1v1h-1zM119 243h1v1h-1zM145 243h1v1h-1zM170 243h1v1h-1zM196 243h1v1h-1zM221 243h1v1h-1zM247 243h1v1h-1zM276 243h1v1h-1zM312 243h1v1h-1zM340 243h1v1h-1zM366 243h1v1h-1zM391 243h1v1h-1zM417 243h1v1h-1zM442 243h1v1h-1zM468 243h1v1h-1zM493 243h1v1h-1zM94 244h1v1h-1zM119 244h1v1h-1zM145 244h1v1h-1zM170 244h1v1h-1zM195 244h1v1h-1zM221 244h1v1h-1zM247 244h1v1h-1zM275 244h1v1h-1zM313 244h1v1h-1zM340 244h1v1h-1zM366 244h1v1h-1zM392 244h1v1h-1zM417 244h1v1h-1zM442 244h1v1h-1zM468 244h1v1h-1zM493 244h1v1h-1zM94 245h1v1h-1zM119 245h1v1h-1zM145 245h1v1h-1zM170 245h1v1h-1zM195 245h1v1h-1zM221 245h1v1h-1zM246 245h1v1h-1zM274 245h1v1h-1zM314 245h1v1h-1zM341 245h1v1h-1zM366 245h1v1h-1zM392 245h1v1h-1zM417 245h1v1h-1zM442 245h1v1h-1zM468 245h1v1h-1zM493 245h1v1h-1zM94 246h1v1h-1zM119 246h1v1h-1zM145 246h1v1h-1zM170 246h1v1h-1zM195 246h1v1h-1zM220 246h1v1h-1zM246 246h1v1h-1zM274 246h1v1h-1zM314 246h1v1h-1zM341 246h1v1h-1zM367 246h1v1h-1zM392 246h1v1h-1zM417 246h1v1h-1zM442 246h1v1h-1zM468 246h1v1h-1zM493 246h1v1h-1zM94 247h1v1h-1zM119 247h1v1h-1zM145 247h1v1h-1zM170 247h1v1h-1zM195 247h1v1h-1zM220 247h1v1h-1zM246 247h1v1h-1zM273 247h1v1h-1zM315 247h1v1h-1zM341 247h1v1h-1zM367 247h1v1h-1zM392 247h1v1h-1zM417 247h1v1h-1zM442 247h1v1h-1zM468 247h1v1h-1zM493 247h1v1h-1zM94 248h1v1h-1zM119 248h1v1h-1zM145 248h1v1h-1zM170 248h1v1h-1zM195 248h1v1h-1zM220 248h1v1h-1zM246 248h1v1h-1zM273 248h1v1h-1zM315 248h1v1h-1zM341 248h1v1h-1zM367 248h1v1h-1zM392 248h1v1h-1zM417 248h1v1h-1zM442 248h1v1h-1zM468 248h1v1h-1zM493 248h1v1h-1zM94 249h1v1h-1zM119 249h1v1h-1zM145 249h1v1h-1zM170 249h1v1h-1zM195 249h1v1h-1zM220 249h1v1h-1zM245 249h1v1h-1zM272 249h1v1h-1zM316 249h1v1h-1zM342 249h1v1h-1zM367 249h1v1h-1zM392 249h1v1h-1zM417 249h1v1h-1zM442 249h1v1h-1zM468 249h1v1h-1zM493 249h1v1h-1zM93 250h1v1h-1zM118 250h1v1h-1zM145 250h1v1h-1zM170 250h1v1h-1zM195 250h1v1h-1zM220 250h1v1h-1zM245 250h1v1h-1zM272 250h1v1h-1zM316 250h1v1h-1zM342 250h1v1h-1zM367 250h1v1h-1zM392 250h1v1h-1zM417 250h1v1h-1zM442 250h1v1h-1zM469 250h1v1h-1zM494 250h1v1h-1zM93 251h1v1h-1zM118 251h1v1h-1zM144 251h1v1h-1zM170 251h1v1h-1zM195 251h1v1h-1zM220 251h1v1h-1zM245 251h1v1h-1zM271 251h1v1h-1zM317 251h1v1h-1zM342 251h1v1h-1zM367 251h1v1h-1zM392 251h1v1h-1zM417 251h1v1h-1zM443 251h1v1h-1zM469 251h1v1h-1zM494 251h1v1h-1zM93 252h1v1h-1zM118 252h1v1h-1zM144 252h1v1h-1zM169 252h1v1h-1zM195 252h1v1h-1zM220 252h1v1h-1zM245 252h1v1h-1zM271 252h1v1h-1zM317 252h1v1h-1zM342 252h1v1h-1zM367 252h1v1h-1zM392 252h1v1h-1zM418 252h1v1h-1zM443 252h1v1h-1zM469 252h1v1h-1zM494 252h1v1h-1zM93 253h1v1h-1zM118 253h1v1h-1zM144 253h1v1h-1zM169 253h1v1h-1zM194 253h1v1h-1zM220 253h1v1h-1zM245 253h1v1h-1zM271 253h1v1h-1zM317 253h1v1h-1zM342 253h1v1h-1zM367 253h1v1h-1zM393 253h1v1h-1zM418 253h1v1h-1zM443 253h1v1h-1zM469 253h1v1h-1zM494 253h1v1h-1zM93 254h1v1h-1zM118 254h1v1h-1zM144 254h1v1h-1zM169 254h1v1h-1zM194 254h1v1h-1zM219 254h1v1h-1zM245 254h1v1h-1zM270 254h1v1h-1zM318 254h1v1h-1zM342 254h1v1h-1zM368 254h1v1h-1zM393 254h1v1h-1zM418 254h1v1h-1zM443 254h1v1h-1zM469 254h1v1h-1zM494 254h1v1h-1zM93 255h1v1h-1zM118 255h1v1h-1zM144 255h1v1h-1zM169 255h1v1h-1zM194 255h1v1h-1zM219 255h1v1h-1zM244 255h1v1h-1zM270 255h1v1h-1zM318 255h1v1h-1zM343 255h1v1h-1zM368 255h1v1h-1zM393 255h1v1h-1zM418 255h1v1h-1zM443 255h1v1h-1zM469 255h1v1h-1zM494 255h1v1h-1zM93 256h1v1h-1zM118 256h1v1h-1zM144 256h1v1h-1zM169 256h1v1h-1zM194 256h1v1h-1zM219 256h1v1h-1zM244 256h1v1h-1zM270 256h1v1h-1zM318 256h1v1h-1zM343 256h1v1h-1zM368 256h1v1h-1zM393 256h1v1h-1zM418 256h1v1h-1zM443 256h1v1h-1zM469 256h1v1h-1zM494 256h1v1h-1zM93 257h1v1h-1zM118 257h1v1h-1zM144 257h1v1h-1zM169 257h1v1h-1zM194 257h1v1h-1zM219 257h1v1h-1zM244 257h1v1h-1zM270 257h1v1h-1zM318 257h1v1h-1zM343 257h1v1h-1zM368 257h1v1h-1zM393 257h1v1h-1zM418 257h1v1h-1zM443 257h1v1h-1zM469 257h1v1h-1zM494 257h1v1h-1zM93 258h1v1h-1zM118 258h1v1h-1zM144 258h1v1h-1zM169 258h1v1h-1zM194 258h1v1h-1zM219 258h1v1h-1zM244 258h1v1h-1zM270 258h1v1h-1zM318 258h1v1h-1zM343 258h1v1h-1zM368 258h1v1h-1zM393 258h1v1h-1zM418 258h1v1h-1zM443 258h1v1h-1zM469 258h1v1h-1zM494 258h1v1h-1zM93 259h1v1h-1zM118 259h1v1h-1zM144 259h1v1h-1zM169 259h1v1h-1zM194 259h1v1h-1zM219 259h1v1h-1zM244 259h1v1h-1zM270 259h1v1h-1zM318 259h1v1h-1zM343 259h1v1h-1zM368 259h1v1h-1zM393 259h1v1h-1zM418 259h1v1h-1zM443 259h1v1h-1zM469 259h1v1h-1zM494 259h1v1h-1zM93 260h1v1h-1zM118 260h1v1h-1zM144 260h1v1h-1zM169 260h1v1h-1zM194 260h1v1h-1zM219 260h1v1h-1zM244 260h1v1h-1zM270 260h1v1h-1zM318 260h1v1h-1zM343 260h1v1h-1zM368 260h1v1h-1zM393 260h1v1h-1zM418 260h1v1h-1zM443 260h1v1h-1zM469 260h1v1h-1zM494 260h1v1h-1zM93 261h1v1h-1zM118 261h1v1h-1zM144 261h1v1h-1zM169 261h1v1h-1zM194 261h1v1h-1zM219 261h1v1h-1zM244 261h1v1h-1zM270 261h1v1h-1zM318 261h1v1h-1zM343 261h1v1h-1zM368 261h1v1h-1zM393 261h1v1h-1zM418 261h1v1h-1zM443 261h1v1h-1zM469 261h1v1h-1zM494 261h1v1h-1zM93 262h1v1h-1zM118 262h1v1h-1zM144 262h1v1h-1zM169 262h1v1h-1zM194 262h1v1h-1zM219 262h1v1h-1zM244 262h1v1h-1zM270 262h1v1h-1zM318 262h1v1h-1zM343 262h1v1h-1zM368 262h1v1h-1zM393 262h1v1h-1zM418 262h1v1h-1zM443 262h1v1h-1zM469 262h1v1h-1zM494 262h1v1h-1zM93 263h1v1h-1zM118 263h1v1h-1zM144 263h1v1h-1zM169 263h1v1h-1zM194 263h1v1h-1zM219 263h1v1h-1zM244 263h1v1h-1zM270 263h1v1h-1zM318 263h1v1h-1zM343 263h1v1h-1zM368 263h1v1h-1zM393 263h1v1h-1zM418 263h1v1h-1zM443 263h1v1h-1zM469 263h1v1h-1zM494 263h1v1h-1zM93 264h1v1h-1zM118 264h1v1h-1zM144 264h1v1h-1zM169 264h1v1h-1zM194 264h1v1h-1zM219 264h1v1h-1zM244 264h1v1h-1zM270 264h1v1h-1zM318 264h1v1h-1zM343 264h1v1h-1zM368 264h1v1h-1zM393 264h1v1h-1zM418 264h1v1h-1zM443 264h1v1h-1zM469 264h1v1h-1zM494 264h1v1h-1zM93 265h1v1h-1zM118 265h1v1h-1zM144 265h1v1h-1zM169 265h1v1h-1zM194 265h1v1h-1zM219 265h1v1h-1zM245 265h1v1h-1zM270 265h1v1h-1zM318 265h1v1h-1zM342 265h1v1h-1zM368 265h1v1h-1zM393 265h1v1h-1zM418 265h1v1h-1zM443 265h1v1h-1zM469 265h1v1h-1zM494 265h1v1h-1zM93 266h1v1h-1zM118 266h1v1h-1zM144 266h1v1h-1zM169 266h1v1h-1zM194 266h1v1h-1zM220 266h1v1h-1zM245 266h1v1h-1zM271 266h1v1h-1zM317 266h1v1h-1zM342 266h1v1h-1zM367 266h1v1h-1zM393 266h1v1h-1zM418 266h1v1h-1zM443 266h1v1h-1zM469 266h1v1h-1zM494 266h1v1h-1zM93 267h1v1h-1zM118 267h1v1h-1zM144 267h1v1h-1zM169 267h1v1h-1zM195 267h1v1h-1zM220 267h1v1h-1zM245 267h1v1h-1zM271 267h1v1h-1zM317 267h1v1h-1zM342 267h1v1h-1zM367 267h1v1h-1zM392 267h1v1h-1zM418 267h1v1h-1zM443 267h1v1h-1zM469 267h1v1h-1zM494 267h1v1h-1zM93 268h1v1h-1zM118 268h1v1h-1zM144 268h1v1h-1zM170 268h1v1h-1zM195 268h1v1h-1zM220 268h1v1h-1zM245 268h1v1h-1zM271 268h1v1h-1zM317 268h1v1h-1zM342 268h1v1h-1zM367 268h1v1h-1zM392 268h1v1h-1zM417 268h1v1h-1zM443 268h1v1h-1zM469 268h1v1h-1zM494 268h1v1h-1zM93 269h1v1h-1zM118 269h1v1h-1zM145 269h1v1h-1zM170 269h1v1h-1zM195 269h1v1h-1zM220 269h1v1h-1zM245 269h1v1h-1zM272 269h1v1h-1zM316 269h1v1h-1zM342 269h1v1h-1zM367 269h1v1h-1zM392 269h1v1h-1zM417 269h1v1h-1zM442 269h1v1h-1zM469 269h1v1h-1zM494 269h1v1h-1zM94 270h1v1h-1zM119 270h1v1h-1zM145 270h1v1h-1zM170 270h1v1h-1zM195 270h1v1h-1zM220 270h1v1h-1zM245 270h1v1h-1zM272 270h1v1h-1zM316 270h1v1h-1zM342 270h1v1h-1zM367 270h1v1h-1zM392 270h1v1h-1zM417 270h1v1h-1zM442 270h1v1h-1zM468 270h1v1h-1zM493 270h1v1h-1zM94 271h1v1h-1zM119 271h1v1h-1zM145 271h1v1h-1zM170 271h1v1h-1zM195 271h1v1h-1zM220 271h1v1h-1zM246 271h1v1h-1zM273 271h1v1h-1zM315 271h1v1h-1zM341 271h1v1h-1zM367 271h1v1h-1zM392 271h1v1h-1zM417 271h1v1h-1zM442 271h1v1h-1zM468 271h1v1h-1zM493 271h1v1h-1zM94 272h1v1h-1zM119 272h1v1h-1zM145 272h1v1h-1zM170 272h1v1h-1zM195 272h1v1h-1zM220 272h1v1h-1zM246 272h1v1h-1zM273 272h1v1h-1zM315 272h1v1h-1zM341 272h1v1h-1zM367 272h1v1h-1zM392 272h1v1h-1zM417 272h1v1h-1zM442 272h1v1h-1zM468 272h1v1h-1zM493 272h1v1h-1zM94 273h1v1h-1zM119 273h1v1h-1zM145 273h1v1h-1zM170 273h1v1h-1zM195 273h1v1h-1zM220 273h1v1h-1zM246 273h1v1h-1zM274 273h1v1h-1zM314 273h1v1h-1zM341 273h1v1h-1zM367 273h1v1h-1zM392 273h1v1h-1zM417 273h1v1h-1zM442 273h1v1h-1zM468 273h1v1h-1zM493 273h1v1h-1zM94 274h1v1h-1zM119 274h1v1h-1zM145 274h1v1h-1zM170 274h1v1h-1zM195 274h1v1h-1zM221 274h1v1h-1zM246 274h1v1h-1zM274 274h1v1h-1zM314 274h1v1h-1zM341 274h1v1h-1zM366 274h1v1h-1zM392 274h1v1h-1zM417 274h1v1h-1zM442 274h1v1h-1zM468 274h1v1h-1zM493 274h1v1h-1zM94 275h1v1h-1zM119 275h1v1h-1zM145 275h1v1h-1zM170 275h1v1h-1zM195 275h1v1h-1zM221 275h1v1h-1zM247 275h1v1h-1zM275 275h1v1h-1zM313 275h1v1h-1zM340 275h1v1h-1zM366 275h1v1h-1zM392 275h1v1h-1zM417 275h1v1h-1zM442 275h1v1h-1zM468 275h1v1h-1zM493 275h1v1h-1zM94 276h1v1h-1zM119 276h1v1h-1zM145 276h1v1h-1zM170 276h1v1h-1zM196 276h1v1h-1zM221 276h1v1h-1zM247 276h1v1h-1zM276 276h1v1h-1zM312 276h1v1h-1zM340 276h1v1h-1zM366 276h1v1h-1zM391 276h1v1h-1zM417 276h1v1h-1zM442 276h1v1h-1zM468 276h1v1h-1zM493 276h1v1h-1zM94 277h1v1h-1zM119 277h1v1h-1zM145 277h1v1h-1zM170 277h1v1h-1zM196 277h1v1h-1zM221 277h1v1h-1zM247 277h1v1h-1zM277 277h1v1h-1zM311 277h1v1h-1zM340 277h1v1h-1zM366 277h1v1h-1zM391 277h1v1h-1zM417 277h1v1h-1zM442 277h1v1h-1zM468 277h1v1h-1zM493 277h1v1h-1zM94 278h1v1h-1zM119 278h1v1h-1zM145 278h1v1h-1zM171 278h1v1h-1zM196 278h1v1h-1zM222 278h1v1h-1zM248 278h1v1h-1zM278 278h1v1h-1zM310 278h1v1h-1zM339 278h1v1h-1zM365 278h1v1h-1zM391 278h1v1h-1zM416 278h1v1h-1zM442 278h1v1h-1zM468 278h1v1h-1zM493 278h1v1h-1zM94 279h1v1h-1zM119 279h1v1h-1zM146 279h1v1h-1zM171 279h1v1h-1zM196 279h1v1h-1zM222 279h1v1h-1zM248 279h1v1h-1zM279 279h1v1h-1zM309 279h1v1h-1zM339 279h1v1h-1zM365 279h1v1h-1zM391 279h1v1h-1zM416 279h1v1h-1zM441 279h1v1h-1zM468 279h1v1h-1zM493 279h1v1h-1zM94 280h1v1h-1zM119 280h1v1h-1zM146 280h1v1h-1zM171 280h1v1h-1zM196 280h1v1h-1zM222 280h1v1h-1zM249 280h1v1h-1zM280 280h2v1h-2zM307 280h2v1h-2zM338 280h1v1h-1zM365 280h1v1h-1zM391 280h1v1h-1zM416 280h1v1h-1zM441 280h1v1h-1zM468 280h1v1h-1zM493 280h1v1h-1zM94 281h1v1h-1zM120 281h1v1h-1zM146 281h1v1h-1zM171 281h1v1h-1zM197 281h1v1h-1zM222 281h1v1h-1zM249 281h1v1h-1zM282 281h2v1h-2zM305 281h2v1h-2zM338 281h1v1h-1zM365 281h1v1h-1zM390 281h1v1h-1zM416 281h1v1h-1zM441 281h1v1h-1zM467 281h1v1h-1zM493 281h1v1h-1zM94 282h1v1h-1zM120 282h1v1h-1zM146 282h1v1h-1zM171 282h1v1h-1zM197 282h1v1h-1zM223 282h1v1h-1zM250 282h1v1h-1zM284 282h2v1h-2zM303 282h2v1h-2zM337 282h1v1h-1zM364 282h1v1h-1zM390 282h1v1h-1zM416 282h1v1h-1zM441 282h1v1h-1zM467 282h1v1h-1zM493 282h1v1h-1zM95 283h1v1h-1zM120 283h1v1h-1zM146 283h1v1h-1zM171 283h1v1h-1zM197 283h1v1h-1zM223 283h1v1h-1zM250 283h1v1h-1zM286 283h3v1h-3zM300 283h3v1h-3zM337 283h1v1h-1zM364 283h1v1h-1zM390 283h1v1h-1zM416 283h1v1h-1zM441 283h1v1h-1zM467 283h1v1h-1zM492 283h1v1h-1zM95 284h1v1h-1zM120 284h1v1h-1zM146 284h1v1h-1zM172 284h1v1h-1zM197 284h1v1h-1zM223 284h1v1h-1zM251 284h1v1h-1zM289 284h11v1h-11zM336 284h1v1h-1zM364 284h1v1h-1zM390 284h1v1h-1zM415 284h1v1h-1zM441 284h1v1h-1zM467 284h1v1h-1zM492 284h1v1h-1zM95 285h1v1h-1zM120 285h1v1h-1zM146 285h1v1h-1zM172 285h1v1h-1zM198 285h1v1h-1zM224 285h1v1h-1zM251 285h1v1h-1zM336 285h1v1h-1zM363 285h1v1h-1zM389 285h1v1h-1zM415 285h1v1h-1zM441 285h1v1h-1zM467 285h1v1h-1zM492 285h1v1h-1zM95 286h1v1h-1zM120 286h1v1h-1zM147 286h1v1h-1zM172 286h1v1h-1zM198 286h1v1h-1zM224 286h1v1h-1zM252 286h1v1h-1zM335 286h1v1h-1zM363 286h1v1h-1zM389 286h1v1h-1zM415 286h1v1h-1zM440 286h1v1h-1zM467 286h1v1h-1zM492 286h1v1h-1zM95 287h1v1h-1zM120 287h1v1h-1zM147 287h1v1h-1zM172 287h1v1h-1zM198 287h1v1h-1zM225 287h1v1h-1zM253 287h1v1h-1zM334 287h1v1h-1zM362 287h1v1h-1zM389 287h1v1h-1zM415 287h1v1h-1zM440 287h1v1h-1zM467 287h1v1h-1zM492 287h1v1h-1zM95 288h1v1h-1zM121 288h1v1h-1zM147 288h1v1h-1zM173 288h1v1h-1zM198 288h1v1h-1zM225 288h1v1h-1zM253 288h1v1h-1zM334 288h1v1h-1zM362 288h1v1h-1zM389 288h1v1h-1zM414 288h1v1h-1zM440 288h1v1h-1zM466 288h1v1h-1zM492 288h1v1h-1zM95 289h1v1h-1zM121 289h1v1h-1zM147 289h1v1h-1zM173 289h1v1h-1zM199 289h1v1h-1zM225 289h1v1h-1zM254 289h1v1h-1zM333 289h1v1h-1zM362 289h1v1h-1zM388 289h1v1h-1zM414 289h1v1h-1zM440 289h1v1h-1zM466 289h1v1h-1zM492 289h1v1h-1zM96 290h1v1h-1zM121 290h1v1h-1zM147 290h1v1h-1zM173 290h1v1h-1zM199 290h1v1h-1zM226 290h1v1h-1zM255 290h1v1h-1zM332 290h1v1h-1zM361 290h1v1h-1zM388 290h1v1h-1zM414 290h1v1h-1zM440 290h1v1h-1zM466 290h1v1h-1zM491 290h1v1h-1zM96 291h1v1h-1zM121 291h1v1h-1zM148 291h1v1h-1zM173 291h1v1h-1zM199 291h1v1h-1zM226 291h1v1h-1zM256 291h1v1h-1zM331 291h1v1h-1zM361 291h1v1h-1zM388 291h1v1h-1zM414 291h1v1h-1zM439 291h1v1h-1zM466 291h1v1h-1zM491 291h1v1h-1zM96 292h1v1h-1zM121 292h1v1h-1zM148 292h1v1h-1zM174 292h1v1h-1zM200 292h1v1h-1zM227 292h1v1h-1zM256 292h1v1h-1zM331 292h1v1h-1zM360 292h1v1h-1zM387 292h1v1h-1zM413 292h1v1h-1zM439 292h1v1h-1zM466 292h1v1h-1zM491 292h1v1h-1zM96 293h1v1h-1zM121 293h1v1h-1zM148 293h1v1h-1zM174 293h1v1h-1zM200 293h1v1h-1zM227 293h1v1h-1zM257 293h1v1h-1zM330 293h1v1h-1zM360 293h1v1h-1zM387 293h1v1h-1zM413 293h1v1h-1zM439 293h1v1h-1zM466 293h1v1h-1zM491 293h1v1h-1zM96 294h1v1h-1zM122 294h1v1h-1zM148 294h1v1h-1zM174 294h1v1h-1zM200 294h1v1h-1zM228 294h1v1h-1zM258 294h1v1h-1zM329 294h1v1h-1zM359 294h1v1h-1zM387 294h1v1h-1zM413 294h1v1h-1zM439 294h1v1h-1zM465 294h1v1h-1zM491 294h1v1h-1zM96 295h1v1h-1zM122 295h1v1h-1zM149 295h1v1h-1zM174 295h1v1h-1zM201 295h1v1h-1zM228 295h1v1h-1zM259 295h1v1h-1zM328 295h1v1h-1zM359 295h1v1h-1zM386 295h1v1h-1zM413 295h1v1h-1zM438 295h1v1h-1zM465 295h1v1h-1zM491 295h1v1h-1zM97 296h1v1h-1zM122 296h1v1h-1zM149 296h1v1h-1zM175 296h1v1h-1zM201 296h1v1h-1zM229 296h1v1h-1zM260 296h1v1h-1zM327 296h1v1h-1zM358 296h1v1h-1zM386 296h1v1h-1zM412 296h1v1h-1zM438 296h1v1h-1zM465 296h1v1h-1zM490 296h1v1h-1zM97 297h1v1h-1zM122 297h1v1h-1zM149 297h1v1h-1zM175 297h1v1h-1zM202 297h1v1h-1zM229 297h1v1h-1zM261 297h2v1h-2zM325 297h2v1h-2zM358 297h1v1h-1zM385 297h1v1h-1zM412 297h1v1h-1zM438 297h1v1h-1zM465 297h1v1h-1zM490 297h1v1h-1zM97 298h1v1h-1zM123 298h1v1h-1zM149 298h1v1h-1zM175 298h1v1h-1zM202 298h1v1h-1zM230 298h1v1h-1zM263 298h1v1h-1zM324 298h1v1h-1zM357 298h1v1h-1zM385 298h1v1h-1zM412 298h1v1h-1zM438 298h1v1h-1zM464 298h1v1h-1zM490 298h1v1h-1zM97 299h1v1h-1zM123 299h1v1h-1zM150 299h1v1h-1zM176 299h1v1h-1zM202 299h1v1h-1zM231 299h1v1h-1zM264 299h1v1h-1zM323 299h1v1h-1zM356 299h1v1h-1zM385 299h1v1h-1zM411 299h1v1h-1zM437 299h1v1h-1zM464 299h1v1h-1zM490 299h1v1h-1zM97 300h1v1h-1zM123 300h1v1h-1zM150 300h1v1h-1zM176 300h1v1h-1zM203 300h1v1h-1zM231 300h1v1h-1zM265 300h2v1h-2zM321 300h2v1h-2zM356 300h1v1h-1zM384 300h1v1h-1zM411 300h1v1h-1zM437 300h1v1h-1zM464 300h1v1h-1zM490 300h1v1h-1zM98 301h1v1h-1zM123 301h1v1h-1zM150 301h1v1h-1zM176 301h1v1h-1zM203 301h1v1h-1zM232 301h1v1h-1zM267 301h1v1h-1zM320 301h1v1h-1zM355 301h1v1h-1zM384 301h1v1h-1zM411 301h1v1h-1zM437 301h1v1h-1zM464 301h1v1h-1zM489 301h1v1h-1zM98 302h1v1h-1zM123 302h1v1h-1zM150 302h1v1h-1zM177 302h1v1h-1zM204 302h1v1h-1zM233 302h1v1h-1zM268 302h2v1h-2zM318 302h2v1h-2zM354 302h1v1h-1zM383 302h1v1h-1zM410 302h1v1h-1zM437 302h1v1h-1zM464 302h1v1h-1zM489 302h1v1h-1zM98 303h1v1h-1zM124 303h1v1h-1zM151 303h1v1h-1zM177 303h1v1h-1zM204 303h1v1h-1zM233 303h1v1h-1zM270 303h2v1h-2zM316 303h2v1h-2zM354 303h1v1h-1zM383 303h1v1h-1zM410 303h1v1h-1zM436 303h1v1h-1zM463 303h1v1h-1zM489 303h1v1h-1zM98 304h1v1h-1zM124 304h1v1h-1zM151 304h1v1h-1zM177 304h1v1h-1zM205 304h1v1h-1zM234 304h1v1h-1zM272 304h2v1h-2zM314 304h2v1h-2zM353 304h1v1h-1zM382 304h1v1h-1zM410 304h1v1h-1zM436 304h1v1h-1zM463 304h1v1h-1zM489 304h1v1h-1zM98 305h1v1h-1zM124 305h1v1h-1zM151 305h1v1h-1zM178 305h1v1h-1zM205 305h1v1h-1zM235 305h1v1h-1zM274 305h2v1h-2zM312 305h2v1h-2zM352 305h1v1h-1zM382 305h1v1h-1zM409 305h1v1h-1zM436 305h1v1h-1zM463 305h1v1h-1zM489 305h1v1h-1zM99 306h1v1h-1zM125 306h1v1h-1zM152 306h1v1h-1zM178 306h1v1h-1zM206 306h1v1h-1zM236 306h1v1h-1zM276 306h3v1h-3zM309 306h3v1h-3zM351 306h1v1h-1zM381 306h1v1h-1zM409 306h1v1h-1zM435 306h1v1h-1zM462 306h1v1h-1zM488 306h1v1h-1zM99 307h1v1h-1zM125 307h1v1h-1zM152 307h1v1h-1zM179 307h1v1h-1zM206 307h1v1h-1zM236 307h1v1h-1zM279 307h4v1h-4zM305 307h4v1h-4zM351 307h1v1h-1zM381 307h1v1h-1zM408 307h1v1h-1zM435 307h1v1h-1zM462 307h1v1h-1zM488 307h1v1h-1zM99 308h1v1h-1zM125 308h1v1h-1zM152 308h1v1h-1zM179 308h1v1h-1zM207 308h1v1h-1zM237 308h1v1h-1zM283 308h6v1h-6zM299 308h6v1h-6zM350 308h1v1h-1zM380 308h1v1h-1zM408 308h1v1h-1zM435 308h1v1h-1zM462 308h1v1h-1zM488 308h1v1h-1zM99 309h1v1h-1zM125 309h1v1h-1zM153 309h1v1h-1zM180 309h1v1h-1zM207 309h1v1h-1zM238 309h1v1h-1zM289 309h10v1h-10zM349 309h1v1h-1zM380 309h1v1h-1zM407 309h1v1h-1zM434 309h1v1h-1zM462 309h1v1h-1zM488 309h1v1h-1zM100 310h1v1h-1zM126 310h1v1h-1zM153 310h1v1h-1zM180 310h1v1h-1zM208 310h1v1h-1zM239 310h1v1h-1zM348 310h1v1h-1zM379 310h1v1h-1zM407 310h1v1h-1zM434 310h1v1h-1zM461 310h1v1h-1zM487 310h1v1h-1zM100 311h1v1h-1zM126 311h1v1h-1zM153 311h1v1h-1zM180 311h1v1h-1zM209 311h1v1h-1zM240 311h1v1h-1zM347 311h1v1h-1zM378 311h1v1h-1zM407 311h1v1h-1zM434 311h1v1h-1zM461 311h1v1h-1zM487 311h1v1h-1zM100 312h1v1h-1zM126 312h1v1h-1zM154 312h1v1h-1zM181 312h1v1h-1zM209 312h1v1h-1zM241 312h1v1h-1zM346 312h1v1h-1zM378 312h1v1h-1zM406 312h1v1h-1zM433 312h1v1h-1zM461 312h1v1h-1zM487 312h1v1h-1zM101 313h1v1h-1zM127 313h1v1h-1zM154 313h1v1h-1zM181 313h1v1h-1zM210 313h1v1h-1zM242 313h1v1h-1zM345 313h1v1h-1zM377 313h1v1h-1zM406 313h1v1h-1zM433 313h1v1h-1zM460 313h1v1h-1zM486 313h1v1h-1zM101 314h1v1h-1zM127 314h1v1h-1zM155 314h1v1h-1zM182 314h1v1h-1zM211 314h1v1h-1zM243 314h1v1h-1zM344 314h1v1h-1zM376 314h1v1h-1zM405 314h1v1h-1zM432 314h1v1h-1zM460 314h1v1h-1zM486 314h1v1h-1zM101 315h1v1h-1zM127 315h1v1h-1zM155 315h1v1h-1zM182 315h1v1h-1zM211 315h1v1h-1zM244 315h1v1h-1zM343 315h1v1h-1zM376 315h1v1h-1zM405 315h1v1h-1zM432 315h1v1h-1zM460 315h1v1h-1zM486 315h1v1h-1zM101 316h1v1h-1zM128 316h1v1h-1zM155 316h1v1h-1zM183 316h1v1h-1zM212 316h1v1h-1zM245 316h1v1h-1zM342 316h1v1h-1zM375 316h1v1h-1zM404 316h1v1h-1zM432 316h1v1h-1zM459 316h1v1h-1zM486 316h1v1h-1zM102 317h1v1h-1zM128 317h1v1h-1zM156 317h1v1h-1zM183 317h1v1h-1zM213 317h1v1h-1zM246 317h2v1h-2zM340 317h2v1h-2zM374 317h1v1h-1zM404 317h1v1h-1zM431 317h1v1h-1zM459 317h1v1h-1zM485 317h1v1h-1zM102 318h1v1h-1zM128 318h1v1h-1zM156 318h1v1h-1zM184 318h1v1h-1zM213 318h1v1h-1zM248 318h1v1h-1zM339 318h1v1h-1zM374 318h1v1h-1zM403 318h1v1h-1zM431 318h1v1h-1zM459 318h1v1h-1zM485 318h1v1h-1zM102 319h1v1h-1zM129 319h1v1h-1zM157 319h1v1h-1zM184 319h1v1h-1zM214 319h1v1h-1zM249 319h1v1h-1zM338 319h1v1h-1zM373 319h1v1h-1zM403 319h1v1h-1zM430 319h1v1h-1zM458 319h1v1h-1zM485 319h1v1h-1zM103 320h1v1h-1zM129 320h1v1h-1zM157 320h1v1h-1zM185 320h1v1h-1zM215 320h1v1h-1zM250 320h2v1h-2zM336 320h2v1h-2zM372 320h1v1h-1zM402 320h1v1h-1zM430 320h1v1h-1zM458 320h1v1h-1zM484 320h1v1h-1zM103 321h1v1h-1zM129 321h1v1h-1zM157 321h1v1h-1zM186 321h1v1h-1zM216 321h1v1h-1zM252 321h1v1h-1zM335 321h1v1h-1zM371 321h1v1h-1zM401 321h1v1h-1zM430 321h1v1h-1zM458 321h1v1h-1zM484 321h1v1h-1zM103 322h1v1h-1zM130 322h1v1h-1zM158 322h1v1h-1zM186 322h1v1h-1zM216 322h1v1h-1zM253 322h2v1h-2zM333 322h2v1h-2zM371 322h1v1h-1zM401 322h1v1h-1zM429 322h1v1h-1zM457 322h1v1h-1zM484 322h1v1h-1zM104 323h1v1h-1zM130 323h1v1h-1zM158 323h1v1h-1zM187 323h1v1h-1zM217 323h1v1h-1zM255 323h1v1h-1zM332 323h1v1h-1zM370 323h1v1h-1zM400 323h1v1h-1zM429 323h1v1h-1zM457 323h1v1h-1zM483 323h1v1h-1zM104 324h1v1h-1zM131 324h1v1h-1zM159 324h1v1h-1zM187 324h1v1h-1zM218 324h1v1h-1zM256 324h2v1h-2zM330 324h2v1h-2zM369 324h1v1h-1zM400 324h1v1h-1zM428 324h1v1h-1zM456 324h1v1h-1zM483 324h1v1h-1zM104 325h1v1h-1zM131 325h1v1h-1zM159 325h1v1h-1zM188 325h1v1h-1zM219 325h1v1h-1zM258 325h2v1h-2zM328 325h2v1h-2zM368 325h1v1h-1zM399 325h1v1h-1zM428 325h1v1h-1zM456 325h1v1h-1zM483 325h1v1h-1zM105 326h1v1h-1zM131 326h1v1h-1zM160 326h1v1h-1zM189 326h1v1h-1zM220 326h1v1h-1zM260 326h2v1h-2zM326 326h2v1h-2zM367 326h1v1h-1zM398 326h1v1h-1zM427 326h1v1h-1zM456 326h1v1h-1zM482 326h1v1h-1zM105 327h1v1h-1zM132 327h1v1h-1zM160 327h1v1h-1zM189 327h1v1h-1zM221 327h1v1h-1zM262 327h2v1h-2zM324 327h2v1h-2zM366 327h1v1h-1zM398 327h1v1h-1zM427 327h1v1h-1zM455 327h1v1h-1zM482 327h1v1h-1zM105 328h1v1h-1zM132 328h1v1h-1zM161 328h1v1h-1zM190 328h1v1h-1zM222 328h1v1h-1zM264 328h3v1h-3zM321 328h3v1h-3zM365 328h1v1h-1zM397 328h1v1h-1zM426 328h1v1h-1zM455 328h1v1h-1zM482 328h1v1h-1zM106 329h1v1h-1zM133 329h1v1h-1zM161 329h1v1h-1zM190 329h1v1h-1zM223 329h1v1h-1zM267 329h2v1h-2zM319 329h2v1h-2zM364 329h1v1h-1zM397 329h1v1h-1zM426 329h1v1h-1zM454 329h1v1h-1zM481 329h1v1h-1zM106 330h1v1h-1zM133 330h1v1h-1zM162 330h1v1h-1zM191 330h1v1h-1zM224 330h1v1h-1zM269 330h3v1h-3zM316 330h3v1h-3zM363 330h1v1h-1zM396 330h1v1h-1zM425 330h1v1h-1zM454 330h1v1h-1zM481 330h1v1h-1zM106 331h1v1h-1zM133 331h1v1h-1zM162 331h1v1h-1zM192 331h1v1h-1zM225 331h1v1h-1zM272 331h4v1h-4zM312 331h4v1h-4zM362 331h1v1h-1zM395 331h1v1h-1zM425 331h1v1h-1zM454 331h1v1h-1zM481 331h1v1h-1zM107 332h1v1h-1zM134 332h1v1h-1zM163 332h1v1h-1zM193 332h1v1h-1zM226 332h1v1h-1zM276 332h4v1h-4zM308 332h4v1h-4zM361 332h1v1h-1zM394 332h1v1h-1zM424 332h1v1h-1zM453 332h1v1h-1zM480 332h1v1h-1zM107 333h1v1h-1zM134 333h1v1h-1zM164 333h1v1h-1zM193 333h1v1h-1zM227 333h1v1h-1zM280 333h8v1h-8zM300 333h8v1h-8zM360 333h1v1h-1zM394 333h1v1h-1zM423 333h1v1h-1zM453 333h1v1h-1zM480 333h1v1h-1zM108 334h1v1h-1zM135 334h1v1h-1zM164 334h1v1h-1zM194 334h1v1h-1zM228 334h1v1h-1zM288 334h12v1h-12zM359 334h1v1h-1zM393 334h1v1h-1zM423 334h1v1h-1zM452 334h1v1h-1zM479 334h1v1h-1zM108 335h1v1h-1zM135 335h1v1h-1zM165 335h1v1h-1zM195 335h1v1h-1zM229 335h1v1h-1zM358 335h1v1h-1zM392 335h1v1h-1zM422 335h1v1h-1zM452 335h1v1h-1zM479 335h1v1h-1zM108 336h1v1h-1zM136 336h1v1h-1zM165 336h1v1h-1zM196 336h1v1h-1zM230 336h1v1h-1zM357 336h1v1h-1zM391 336h1v1h-1zM422 336h1v1h-1zM451 336h1v1h-1zM479 336h1v1h-1zM109 337h1v1h-1zM136 337h1v1h-1zM166 337h1v1h-1zM196 337h1v1h-1zM231 337h2v1h-2zM355 337h2v1h-2zM391 337h1v1h-1zM421 337h1v1h-1zM451 337h1v1h-1zM478 337h1v1h-1zM109 338h1v1h-1zM137 338h1v1h-1zM167 338h1v1h-1zM197 338h1v1h-1zM233 338h1v1h-1zM354 338h1v1h-1zM390 338h1v1h-1zM420 338h1v1h-1zM450 338h1v1h-1zM478 338h1v1h-1zM110 339h1v1h-1zM137 339h1v1h-1zM167 339h1v1h-1zM198 339h1v1h-1zM234 339h1v1h-1zM353 339h1v1h-1zM389 339h1v1h-1zM420 339h1v1h-1zM450 339h1v1h-1zM477 339h1v1h-1zM110 340h1v1h-1zM138 340h1v1h-1zM168 340h1v1h-1zM199 340h1v1h-1zM235 340h2v1h-2zM351 340h2v1h-2zM388 340h1v1h-1zM419 340h1v1h-1zM449 340h1v1h-1zM477 340h1v1h-1zM111 341h1v1h-1zM138 341h1v1h-1zM168 341h1v1h-1zM200 341h1v1h-1zM237 341h1v1h-1zM350 341h1v1h-1zM387 341h1v1h-1zM419 341h1v1h-1zM449 341h1v1h-1zM476 341h1v1h-1zM111 342h1v1h-1zM139 342h1v1h-1zM169 342h1v1h-1zM201 342h1v1h-1zM238 342h2v1h-2zM348 342h2v1h-2zM386 342h1v1h-1zM418 342h1v1h-1zM448 342h1v1h-1zM476 342h1v1h-1zM111 343h1v1h-1zM139 343h1v1h-1zM170 343h1v1h-1zM201 343h1v1h-1zM240 343h1v1h-1zM347 343h1v1h-1zM386 343h1v1h-1zM417 343h1v1h-1zM448 343h1v1h-1zM476 343h1v1h-1zM112 344h1v1h-1zM140 344h1v1h-1zM170 344h1v1h-1zM202 344h1v1h-1zM241 344h2v1h-2zM345 344h2v1h-2zM385 344h1v1h-1zM417 344h1v1h-1zM447 344h1v1h-1zM475 344h1v1h-1zM112 345h1v1h-1zM140 345h1v1h-1zM171 345h1v1h-1zM203 345h1v1h-1zM243 345h1v1h-1zM344 345h1v1h-1zM384 345h1v1h-1zM416 345h1v1h-1zM447 345h1v1h-1zM475 345h1v1h-1zM113 346h1v1h-1zM141 346h1v1h-1zM172 346h1v1h-1zM204 346h1v1h-1zM244 346h2v1h-2zM342 346h2v1h-2zM383 346h1v1h-1zM415 346h1v1h-1zM446 346h1v1h-1zM474 346h1v1h-1zM113 347h1v1h-1zM142 347h1v1h-1zM173 347h1v1h-1zM205 347h1v1h-1zM246 347h2v1h-2zM340 347h2v1h-2zM382 347h1v1h-1zM414 347h1v1h-1zM445 347h1v1h-1zM474 347h1v1h-1zM114 348h1v1h-1zM142 348h1v1h-1zM173 348h1v1h-1zM206 348h1v1h-1zM248 348h2v1h-2zM338 348h2v1h-2zM381 348h1v1h-1zM414 348h1v1h-1zM445 348h1v1h-1zM473 348h1v1h-1zM114 349h1v1h-1zM143 349h1v1h-1zM174 349h1v1h-1zM207 349h1v1h-1zM250 349h2v1h-2zM336 349h2v1h-2zM380 349h1v1h-1zM413 349h1v1h-1zM444 349h1v1h-1zM473 349h1v1h-1zM115 350h1v1h-1zM143 350h1v1h-1zM175 350h1v1h-1zM208 350h1v1h-1zM252 350h2v1h-2zM334 350h2v1h-2zM379 350h1v1h-1zM412 350h1v1h-1zM444 350h1v1h-1zM472 350h1v1h-1zM115 351h1v1h-1zM144 351h1v1h-1zM176 351h1v1h-1zM209 351h1v1h-1zM254 351h3v1h-3zM331 351h3v1h-3zM378 351h1v1h-1zM411 351h1v1h-1zM443 351h1v1h-1zM472 351h1v1h-1zM116 352h1v1h-1zM145 352h1v1h-1zM176 352h1v1h-1zM210 352h2v1h-2zM257 352h2v1h-2zM329 352h2v1h-2zM376 352h2v1h-2zM411 352h1v1h-1zM442 352h1v1h-1zM471 352h1v1h-1zM116 353h1v1h-1zM145 353h1v1h-1zM177 353h1v1h-1zM212 353h1v1h-1zM259 353h3v1h-3zM326 353h3v1h-3zM375 353h1v1h-1zM410 353h1v1h-1zM442 353h1v1h-1zM471 353h1v1h-1zM117 354h1v1h-1zM146 354h1v1h-1zM178 354h1v1h-1zM213 354h1v1h-1zM262 354h3v1h-3zM323 354h3v1h-3zM374 354h1v1h-1zM409 354h1v1h-1zM441 354h1v1h-1zM470 354h1v1h-1zM117 355h1v1h-1zM147 355h1v1h-1zM179 355h1v1h-1zM214 355h1v1h-1zM265 355h4v1h-4zM319 355h4v1h-4zM373 355h1v1h-1zM408 355h1v1h-1zM440 355h1v1h-1zM470 355h1v1h-1zM118 356h1v1h-1zM147 356h1v1h-1zM180 356h1v1h-1zM215 356h1v1h-1zM269 356h4v1h-4zM315 356h4v1h-4zM372 356h1v1h-1zM407 356h1v1h-1zM440 356h1v1h-1zM469 356h1v1h-1zM119 357h1v1h-1zM148 357h1v1h-1zM180 357h1v1h-1zM216 357h2v1h-2zM273 357h5v1h-5zM310 357h5v1h-5zM370 357h2v1h-2zM407 357h1v1h-1zM439 357h1v1h-1zM468 357h1v1h-1zM119 358h1v1h-1zM149 358h1v1h-1zM181 358h1v1h-1zM218 358h1v1h-1zM278 358h9v1h-9zM301 358h9v1h-9zM369 358h1v1h-1zM406 358h1v1h-1zM438 358h1v1h-1zM468 358h1v1h-1zM120 359h1v1h-1zM149 359h1v1h-1zM182 359h1v1h-1zM219 359h1v1h-1zM287 359h14v1h-14zM368 359h1v1h-1zM405 359h1v1h-1zM438 359h1v1h-1zM467 359h1v1h-1zM120 360h1v1h-1zM150 360h1v1h-1zM183 360h1v1h-1zM220 360h2v1h-2zM366 360h2v1h-2zM404 360h1v1h-1zM437 360h1v1h-1zM467 360h1v1h-1zM121 361h1v1h-1zM151 361h1v1h-1zM184 361h1v1h-1zM222 361h1v1h-1zM365 361h1v1h-1zM403 361h1v1h-1zM436 361h1v1h-1zM466 361h1v1h-1zM121 362h1v1h-1zM151 362h1v1h-1zM185 362h1v1h-1zM223 362h1v1h-1zM364 362h1v1h-1zM402 362h1v1h-1zM436 362h1v1h-1zM466 362h1v1h-1zM122 363h1v1h-1zM152 363h1v1h-1zM186 363h1v1h-1zM224 363h2v1h-2zM362 363h2v1h-2zM401 363h1v1h-1zM435 363h1v1h-1zM465 363h1v1h-1zM123 364h1v1h-1zM153 364h1v1h-1zM187 364h1v1h-1zM226 364h2v1h-2zM360 364h2v1h-2zM400 364h1v1h-1zM434 364h1v1h-1zM464 364h1v1h-1zM123 365h1v1h-1zM154 365h1v1h-1zM188 365h1v1h-1zM228 365h1v1h-1zM359 365h1v1h-1zM399 365h1v1h-1zM433 365h1v1h-1zM464 365h1v1h-1zM124 366h1v1h-1zM154 366h1v1h-1zM189 366h1v1h-1zM229 366h2v1h-2zM357 366h2v1h-2zM398 366h1v1h-1zM433 366h1v1h-1zM463 366h1v1h-1zM125 367h1v1h-1zM155 367h1v1h-1zM190 367h1v1h-1zM231 367h2v1h-2zM355 367h2v1h-2zM397 367h1v1h-1zM432 367h1v1h-1zM462 367h1v1h-1zM125 368h1v1h-1zM156 368h1v1h-1zM191 368h1v1h-1zM233 368h1v1h-1zM354 368h1v1h-1zM396 368h1v1h-1zM431 368h1v1h-1zM462 368h1v1h-1zM126 369h1v1h-1zM157 369h1v1h-1zM192 369h1v1h-1zM234 369h2v1h-2zM352 369h2v1h-2zM395 369h1v1h-1zM430 369h1v1h-1zM461 369h1v1h-1zM126 370h1v1h-1zM157 370h1v1h-1zM193 370h1v1h-1zM236 370h2v1h-2zM350 370h2v1h-2zM394 370h1v1h-1zM430 370h1v1h-1zM461 370h1v1h-1zM127 371h1v1h-1zM158 371h1v1h-1zM194 371h1v1h-1zM238 371h2v1h-2zM348 371h2v1h-2zM393 371h1v1h-1zM429 371h1v1h-1zM460 371h1v1h-1zM128 372h1v1h-1zM159 372h1v1h-1zM195 372h1v1h-1zM240 372h2v1h-2zM346 372h2v1h-2zM392 372h1v1h-1zM428 372h1v1h-1zM459 372h1v1h-1zM128 373h1v1h-1zM160 373h1v1h-1zM196 373h2v1h-2zM242 373h3v1h-3zM343 373h3v1h-3zM390 373h2v1h-2zM427 373h1v1h-1zM459 373h1v1h-1zM129 374h1v1h-1zM161 374h1v1h-1zM198 374h1v1h-1zM245 374h2v1h-2zM341 374h2v1h-2zM389 374h1v1h-1zM426 374h1v1h-1zM458 374h1v1h-1zM130 375h1v1h-1zM162 375h1v1h-1zM199 375h1v1h-1zM247 375h2v1h-2zM339 375h2v1h-2zM388 375h1v1h-1zM425 375h1v1h-1zM457 375h1v1h-1zM131 376h1v1h-1zM163 376h1v1h-1zM200 376h1v1h-1zM249 376h3v1h-3zM336 376h3v1h-3zM387 376h1v1h-1zM424 376h1v1h-1zM456 376h1v1h-1zM131 377h1v1h-1zM163 377h1v1h-1zM201 377h2v1h-2zM252 377h3v1h-3zM333 377h3v1h-3zM385 377h2v1h-2zM424 377h1v1h-1zM456 377h1v1h-1zM132 378h1v1h-1zM164 378h1v1h-1zM203 378h1v1h-1zM255 378h3v1h-3zM330 378h3v1h-3zM384 378h1v1h-1zM423 378h1v1h-1zM455 378h1v1h-1zM133 379h1v1h-1zM165 379h1v1h-1zM204 379h1v1h-1zM258 379h4v1h-4zM326 379h4v1h-4zM383 379h1v1h-1zM422 379h1v1h-1zM454 379h1v1h-1zM134 380h1v1h-1zM166 380h1v1h-1zM205 380h2v1h-2zM262 380h4v1h-4zM322 380h4v1h-4zM381 380h2v1h-2zM421 380h1v1h-1zM453 380h1v1h-1zM134 381h1v1h-1zM167 381h1v1h-1zM207 381h1v1h-1zM266 381h4v1h-4zM318 381h4v1h-4zM380 381h1v1h-1zM420 381h1v1h-1zM453 381h1v1h-1zM135 382h1v1h-1zM168 382h1v1h-1zM208 382h1v1h-1zM270 382h6v1h-6zM312 382h6v1h-6zM379 382h1v1h-1zM419 382h1v1h-1zM452 382h1v1h-1zM136 383h1v1h-1zM169 383h1v1h-1zM209 383h2v1h-2zM276 383h10v1h-10zM302 383h10v1h-10zM377 383h2v1h-2zM418 383h1v1h-1zM451 383h1v1h-1zM137 384h1v1h-1zM170 384h1v1h-1zM211 384h1v1h-1zM286 384h16v1h-16zM376 384h1v1h-1zM417 384h1v1h-1zM450 384h1v1h-1zM137 385h1v1h-1zM171 385h1v1h-1zM212 385h2v1h-2zM374 385h2v1h-2zM416 385h1v1h-1zM450 385h1v1h-1zM138 386h1v1h-1zM172 386h1v1h-1zM214 386h2v1h-2zM372 386h2v1h-2zM415 386h1v1h-1zM449 386h1v1h-1zM139 387h1v1h-1zM173 387h1v1h-1zM216 387h1v1h-1zM371 387h1v1h-1zM414 387h1v1h-1zM448 387h1v1h-1zM140 388h1v1h-1zM174 388h1v1h-1zM217 388h2v1h-2zM369 388h2v1h-2zM413 388h1v1h-1zM447 388h1v1h-1zM141 389h1v1h-1zM175 389h1v1h-1zM219 389h2v1h-2zM367 389h2v1h-2zM412 389h1v1h-1zM446 389h1v1h-1zM142 390h1v1h-1zM176 390h2v1h-2zM221 390h1v1h-1zM366 390h1v1h-1zM410 390h2v1h-2zM445 390h1v1h-1zM142 391h1v1h-1zM178 391h1v1h-1zM222 391h2v1h-2zM364 391h2v1h-2zM409 391h1v1h-1zM445 391h1v1h-1zM143 392h1v1h-1zM179 392h1v1h-1zM224 392h2v1h-2zM362 392h2v1h-2zM408 392h1v1h-1zM444 392h1v1h-1zM144 393h1v1h-1zM180 393h1v1h-1zM226 393h2v1h-2zM360 393h2v1h-2zM407 393h1v1h-1zM443 393h1v1h-1zM145 394h1v1h-1zM181 394h1v1h-1zM228 394h2v1h-2zM358 394h2v1h-2zM406 394h1v1h-1zM442 394h1v1h-1zM146 395h1v1h-1zM182 395h1v1h-1zM230 395h2v1h-2zM356 395h2v1h-2zM405 395h1v1h-1zM441 395h1v1h-1zM147 396h1v1h-1zM183 396h2v1h-2zM232 396h3v1h-3zM353 396h3v1h-3zM403 396h2v1h-2zM440 396h1v1h-1zM148 397h1v1h-1zM185 397h1v1h-1zM235 397h2v1h-2zM351 397h2v1h-2zM402 397h1v1h-1zM439 397h1v1h-1zM149 398h1v1h-1zM186 398h1v1h-1zM237 398h3v1h-3zM348 398h3v1h-3zM401 398h1v1h-1zM438 398h1v1h-1zM150 399h1v1h-1zM187 399h2v1h-2zM240 399h2v1h-2zM346 399h2v1h-2zM399 399h2v1h-2zM437 399h1v1h-1zM151 400h1v1h-1zM189 400h1v1h-1zM242 400h3v1h-3zM343 400h3v1h-3zM398 400h1v1h-1zM436 400h1v1h-1zM152 401h1v1h-1zM190 401h1v1h-1zM245 401h3v1h-3zM340 401h3v1h-3zM397 401h1v1h-1zM435 401h1v1h-1zM153 402h1v1h-1zM191 402h2v1h-2zM248 402h3v1h-3zM337 402h3v1h-3zM395 402h2v1h-2zM434 402h1v1h-1zM154 403h1v1h-1zM193 403h1v1h-1zM251 403h4v1h-4zM333 403h4v1h-4zM394 403h1v1h-1zM433 403h1v1h-1zM155 404h1v1h-1zM194 404h2v1h-2zM255 404h4v1h-4zM329 404h4v1h-4zM392 404h2v1h-2zM432 404h1v1h-1zM156 405h1v1h-1zM196 405h1v1h-1zM259 405h4v1h-4zM325 405h4v1h-4zM391 405h1v1h-1zM431 405h1v1h-1zM157 406h1v1h-1zM197 406h2v1h-2zM263 406h5v1h-5zM320 406h5v1h-5zM389 406h2v1h-2zM430 406h1v1h-1zM158 407h1v1h-1zM199 407h1v1h-1zM268 407h7v1h-7zM313 407h7v1h-7zM388 407h1v1h-1zM429 407h1v1h-1zM159 408h1v1h-1zM200 408h2v1h-2zM275 408h10v1h-10zM303 408h10v1h-10zM386 408h2v1h-2zM428 408h1v1h-1zM160 409h1v1h-1zM202 409h1v1h-1zM285 409h18v1h-18zM385 409h1v1h-1zM427 409h1v1h-1zM161 410h1v1h-1zM203 410h2v1h-2zM383 410h2v1h-2zM426 410h1v1h-1zM162 411h2v1h-2zM205 411h2v1h-2zM381 411h2v1h-2zM424 411h2v1h-2zM164 412h1v1h-1zM207 412h1v1h-1zM380 412h1v1h-1zM423 412h1v1h-1zM165 413h1v1h-1zM208 413h2v1h-2zM378 413h2v1h-2zM422 413h1v1h-1zM166 414h1v1h-1zM210 414h2v1h-2zM376 414h2v1h-2zM421 414h1v1h-1zM167 415h1v1h-1zM212 415h2v1h-2zM374 415h2v1h-2zM420 415h1v1h-1zM168 416h2v1h-2zM214 416h2v1h-2zM372 416h2v1h-2zM418 416h2v1h-2zM170 417h1v1h-1zM216 417h2v1h-2zM370 417h2v1h-2zM417 417h1v1h-1zM171 418h1v1h-1zM218 418h2v1h-2zM368 418h2v1h-2zM416 418h1v1h-1zM172 419h2v1h-2zM220 419h2v1h-2zM366 419h2v1h-2zM414 419h2v1h-2zM174 420h1v1h-1zM222 420h3v1h-3zM363 420h3v1h-3zM413 420h1v1h-1zM175 421h1v1h-1zM225 421h2v1h-2zM361 421h2v1h-2zM412 421h1v1h-1zM176 422h2v1h-2zM227 422h3v1h-3zM358 422h3v1h-3zM410 422h2v1h-2zM178 423h1v1h-1zM230 423h2v1h-2zM356 423h2v1h-2zM409 423h1v1h-1zM179 424h1v1h-1zM232 424h3v1h-3zM353 424h3v1h-3zM408 424h1v1h-1zM180 425h2v1h-2zM235 425h3v1h-3zM350 425h3v1h-3zM406 425h2v1h-2zM182 426h1v1h-1zM238 426h3v1h-3zM347 426h3v1h-3zM405 426h1v1h-1zM183 427h2v1h-2zM241 427h3v1h-3zM344 427h3v1h-3zM403 427h2v1h-2zM185 428h2v1h-2zM244 428h4v1h-4zM340 428h4v1h-4zM401 428h2v1h-2zM187 429h1v1h-1zM248 429h3v1h-3zM337 429h3v1h-3zM400 429h1v1h-1zM188 430h2v1h-2zM251 430h5v1h-5zM332 430h5v1h-5zM398 430h2v1h-2zM190 431h1v1h-1zM256 431h4v1h-4zM328 431h4v1h-4zM397 431h1v1h-1zM191 432h2v1h-2zM260 432h6v1h-6zM322 432h6v1h-6zM395 432h2v1h-2zM193 433h2v1h-2zM266 433h7v1h-7zM315 433h7v1h-7zM393 433h2v1h-2zM195 434h2v1h-2zM273 434h11v1h-11zM304 434h11v1h-11zM391 434h2v1h-2zM197 435h1v1h-1zM284 435h20v1h-20zM390 435h1v1h-1zM198 436h2v1h-2zM388 436h2v1h-2zM200 437h2v1h-2zM386 437h2v1h-2zM202 438h2v1h-2zM384 438h2v1h-2zM204 439h2v1h-2zM382 439h2v1h-2zM206 440h2v1h-2zM380 440h2v1h-2zM208 441h2v1h-2zM378 441h2v1h-2zM210 442h3v1h-3zM375 442h3v1h-3zM213 443h2v1h-2zM373 443h2v1h-2zM215 444h2v1h-2zM371 444h2v1h-2zM217 445h3v1h-3zM368 445h3v1h-3zM220 446h2v1h-2zM366 446h2v1h-2zM222 447h3v1h-3zM363 447h3v1h-3zM225 448h3v1h-3zM360 448h3v1h-3zM228 449h3v1h-3zM357 449h3v1h-3zM231 450h3v1h-3zM354 450h3v1h-3zM234 451h3v1h-3zM351 451h3v1h-3zM237 452h4v1h-4zM347 452h4v1h-4zM241 453h3v1h-3zM344 453h3v1h-3zM244 454h4v1h-4zM340 454h4v1h-4zM248 455h5v1h-5zM335 455h5v1h-5zM253 456h5v1h-5zM330 456h5v1h-5zM258 457h6v1h-6zM324 457h6v1h-6zM264 458h7v1h-7zM317 458h7v1h-7zM271 459h13v1h-13zM304 459h13v1h-13zM284 460h20v1h-20z" fill="#000"/>
<line x1="294.50" y1="236.20" x2="294.50" y2="60.00" stroke="#000" stroke-width="1"/>
<line x1="299.24" y1="236.67" x2="333.62" y2="63.85" stroke="#000" stroke-width="1"/>
<line x1="303.80" y1="238.05" x2="371.23" y2="75.26" stroke="#000" stroke-width="1"/>
<line x1="308.00" y1="240.30" x2="405.89" y2="93.79" stroke="#000" stroke-width="1"/>
<line x1="311.68" y1="243.32" x2="436.27" y2="118.73" stroke="#000" stroke-width="1"/>
<line x1="314.70" y1="247.00" x2="461.21" y2="149.11" stroke="#000" stroke-width="1"/>
<line x1="316.95" y1="251.20" x2="479.74" y2="183.77" stroke="#000" stroke-width="1"/>
<line x1="318.33" y1="255.76" x2="491.15" y2="221.38" stroke="#000" stroke-width="1"/>
<line x1="318.80" y1="260.50" x2="495.00" y2="260.50" stroke="#000" stroke-width="1"/>
<line x1="318.33" y1="265.24" x2="491.15" y2="299.62" stroke="#000" stroke-width="1"/>
<line x1="316.95" y1="269.80" x2="479.74" y2="337.23" stroke="#000" stroke-width="1"/>
<line x1="314.70" y1="274.00" x2="461.21" y2="371.89" stroke="#000" stroke-width="1"/>
<line x1="311.68" y1="277.68" x2="436.27" y2="402.27" stroke="#000" stroke-width="1"/>
<line x1="308.00" y1="280.70" x2="405.89" y2="427.21" stroke="#000" stroke-width="1"/>
<line x1="303.80" y1="282.95" x2="371.23" y2="445.74" stroke="#000" stroke-width="1"/>
<line x1="299.24" y1="284.33" x2="333.62" y2="457.15" stroke="#000" stroke-width="1"/>
<line x1="294.50" y1="284.80" x2="294.50" y2="461.00" stroke="#000" stroke-width="1"/>
<line x1="289.76" y1="284.33" x2="255.38" y2="457.15" stroke="#000" stroke-width="1"/>
<line x1="285.20" y1="282.95" x2="217.77" y2="445.74" stroke="#000" stroke-width="1"/>
<line x1="281.00" y1="280.70" x2="183.11" y2="427.21" stroke="#000" stroke-width="1"/>
<line x1="277.32" y1="277.68" x2="152.73" y2="402.27" stroke="#000" stroke-width="1"/>
<line x1="274.30" y1="274.00" x2="127.79" y2="371.89" stroke="#000" stroke-width="1"/>
<line x1="272.05" y1="269.80" x2="109.26" y2="337.23" stroke="#000" stroke-width="1"/>
<line x1="270.67" y1="265.24" x2="97.85" y2="299.62" stroke="#000" stroke-width="1"/>
<line x1="270.20" y1="260.50" x2="94.00" y2="260.50" stroke="#000" stroke-width="1"/>
<line x1="270.67" y1="255.76" x2="97.85" y2="221.38" stroke="#000" stroke-width="1"/>
<line x1="272.05" y1="251.20" x2="109.26" y2="183.77" stroke="#000" stroke-width="1"/>
<line x1="274.30" y1="247.00" x2="127.79" y2="149.11" stroke="#000" stroke-width="1"/>
<line x1="277.32" y1="243.32" x2="152.73" y2="118.73" stroke="#000" stroke-width="1"/>
<line x1="281.00" y1="240.30" x2="183.11" y2="93.79" stroke="#000" stroke-width="1"/>
<line x1="285.20" y1="238.05" x2="217.77" y2="75.26" stroke="#000" stroke-width="1"/>
<line x1="289.76" y1="236.67" x2="255.38" y2="63.85" stroke="#000" stroke-width="1"/>
</g>
<g shape-rendering="crispEdges">
<polygon points="269.62,262.40 269.55,261.60 269.51,260.80 269.50,260.00 269.51,259.20 269.55,258.40 269.62,257.60 294.00,260.00" fill="#fdfdc4" stroke="#000" stroke-width="1"/>
<polygon points="190.50,270.19 190.22,266.80 190.06,263.40 190.00,260.00 190.06,256.60 190.22,253.20 190.50,249.81 269.62,257.60 269.55,258.40 269.51,259.20 269.50,260.00 269.51,260.80 269.55,261.60 269.62,262.40" fill="#ffff00" stroke="#000" stroke-width="1"/>
<polygon points="159.65,273.23 159.29,268.83 159.07,264.42 159.00,260.00 159.07,255.58 159.29,251.17 159.65,246.77 190.50,249.81 190.22,253.20 190.06,256.60 190.00,260.00 190.06,263.40 190.22,266.80 190.50,270.19" fill="#00ff00" stroke="#000" stroke-width="1"/>
<polygon points="157.16,273.48 156.79,268.99 156.57,264.50 156.50,260.00 156.57,255.50 156.79,251.01 157.16,246.52 159.65,246.77 159.29,251.17 159.07,255.58 159.00,260.00 159.07,264.42 159.29,268.83 159.65,273.23" fill="#ff8000" stroke="#000" stroke-width="1"/>
<polygon points="274.10,258.04 274.17,257.39 274.27,256.74 274.38,256.10 274.52,255.46 274.68,254.82 274.86,254.19 294.00,260.00" fill="#fdfdc4" stroke="#000" stroke-width="1"/>
<polygon points="213.39,252.06 213.69,249.43 214.08,246.81 214.56,244.20 215.12,241.61 215.76,239.04 216.49,236.49 274.86,254.19 274.68,254.82 274.52,255.46 274.38,256.10 274.27,256.74 274.17,257.39 274.10,258.04" fill="#ffff00" stroke="#000" stroke-width="1"/>
<polygon points="119.84,242.85 120.50,237.16 121.34,231.49 122.36,225.86 123.57,220.26 124.96,214.71 126.54,209.20 216.49,236.49 215.76,239.04 215.12,241.61 214.56,244.20 214.08,246.81 213.69,249.43 213.39,252.06" fill="#00ff00" stroke="#000" stroke-width="1"/>
<polygon points="94.96,240.40 95.71,233.89 96.67,227.42 97.84,220.98 99.22,214.58 100.81,208.24 102.61,201.94 126.54,209.20 124.96,214.71 123.57,220.26 122.36,225.86 121.34,231.49 120.50,237.16 119.84,242.85" fill="#ff8000" stroke="#000" stroke-width="1"/>
<polygon points="274.86,254.19 275.06,253.57 275.28,252.95 275.52,252.35 275.78,251.75 276.06,251.15 276.36,250.57 294.00,260.00" fill="#fdfdc4" stroke="#000" stroke-width="1"/>
<polygon points="229.88,240.55 230.56,238.46 231.29,236.40 232.10,234.36 232.97,232.35 233.91,230.37 234.91,228.42 276.36,250.57 276.06,251.15 275.78,251.75 275.52,252.35 275.28,252.95 275.06,253.57 274.86,254.19" fill="#ffff00" stroke="#000" stroke-width="1"/>
<polygon points="184.91,226.91 186.05,223.36 187.31,219.84 188.68,216.37 190.16,212.95 191.76,209.58 193.46,206.26 234.91,228.42 233.91,230.37 232.97,232.35 232.10,234.36 231.29,236.40 230.56,238.46 229.88,240.55" fill="#00ff00" stroke="#000" stroke-width="1"/>
<polygon points="175.34,224.00 176.58,220.14 177.95,216.32 179.44,212.55 181.05,208.82 182.79,205.16 184.64,201.55 193.46,206.26 191.76,209.58 190.16,212.95 188.68,216.37 187.31,219.84 186.05,223.36 184.91,226.91" fill="#ff8000" stroke="#000" stroke-width="1"/>
<polygon points="277.24,251.04 277.55,250.50 277.87,249.97 278.20,249.44 278.56,248.93 278.93,248.43 279.31,247.95 294.00,260.00" fill="#fdfdc4" stroke="#000" stroke-width="1"/>
<polygon points="245.49,234.07 246.37,232.50 247.29,230.96 248.27,229.44 249.29,227.96 250.37,226.52 251.48,225.11 279.31,247.95 278.93,248.43 278.56,248.93 278.20,249.44 277.87,249.97 277.55,250.50 277.24,251.04" fill="#ffff00" stroke="#000" stroke-width="1"/>
<polygon points="221.68,221.35 222.99,219.00 224.37,216.70 225.82,214.44 227.35,212.24 228.95,210.08 230.61,207.98 251.48,225.11 250.37,226.52 249.29,227.96 248.27,229.44 247.29,230.96 246.37,232.50 245.49,234.07" fill="#00ff00" stroke="#000" stroke-width="1"/>
<polygon points="214.63,217.57 216.06,215.00 217.57,212.47 219.17,210.00 220.84,207.58 222.60,205.21 224.43,202.90 230.61,207.98 228.95,210.08 227.35,212.24 225.82,214.44 224.37,216.70 222.99,219.00 221.68,221.35" fill="#ff8000" stroke="#000" stroke-width="1"/>
<polygon points="280.47,248.90 280.84,248.46 281.23,248.04 281.63,247.63 282.04,247.23 282.46,246.84 282.90,246.47 294.00,260.00" fill="#fdfdc4" stroke="#000" stroke-width="1"/>
<polygon points="255.35,228.28 256.41,227.03 257.51,225.82 258.64,224.64 259.82,223.51 261.03,222.41 262.28,221.35 282.90,246.47 282.46,246.84 282.04,247.23 281.63,247.63 281.23,248.04 280.84,248.46 280.47,248.90" fill="#ffff00" stroke="#000" stroke-width="1"/>
<polygon points="235.25,211.79 236.86,209.89 238.53,208.05 240.26,206.26 242.05,204.53 243.89,202.86 245.79,201.25 262.28,221.35 261.03,222.41 259.82,223.51 258.64,224.64 257.51,225.82 256.41,227.03 255.35,228.28" fill="#00ff00" stroke="#000" stroke-width="1"/>
<polygon points="232.16,209.25 233.85,207.25 235.61,205.31 237.43,203.43 239.31,201.61 241.25,199.85 243.25,198.16 245.79,201.25 243.89,202.86 242.05,204.53 240.26,206.26 238.53,208.05 236.86,209.89 235.25,211.79" fill="#ff8000" stroke="#000" stroke-width="1"/>
<polygon points="265.29,268.71 265.02,267.76 264.78,266.81 264.58,265.85 264.40,264.89 264.26,263.92 264.14,262.94 294.00,260.00" fill="#fdfdc4" stroke="#000" stroke-width="1"/>
<polygon points="224.14,281.19 223.49,278.89 222.91,276.58 222.40,274.24 221.98,271.89 221.62,269.53 221.35,267.16 264.14,262.94 264.26,263.92 264.40,264.89 264.58,265.85 264.78,266.81 265.02,267.76 265.29,268.71" fill="#ffff00" stroke="#000" stroke-width="1"/>
<polygon points="210.75,285.25 209.96,282.52 209.27,279.76 208.67,276.97 208.16,274.17 207.74,271.36 207.42,268.53 221.35,267.16 221.62,269.53 221.98,271.89 222.40,274.24 222.91,276.58 223.49,278.89 224.14,281.19" fill="#00ff00" stroke="#000" stroke-width="1"/>
<polygon points="277.24,268.96 276.96,268.40 276.69,267.84 276.45,267.27 276.22,266.69 276.01,266.11 275.82,265.52 294.00,260.00" fill="#fdfdc4" stroke="#000" stroke-width="1"/>
<polygon points="271.07,272.26 270.68,271.50 270.32,270.73 269.98,269.95 269.67,269.16 269.38,268.36 269.12,267.55 275.82,265.52 276.01,266.11 276.22,266.69 276.45,267.27 276.69,267.84 276.96,268.40 277.24,268.96" fill="#ffff00" stroke="#000" stroke-width="1"/>
<polygon points="280.86,270.78 280.51,270.35 280.18,269.90 279.87,269.44 279.56,268.98 279.28,268.50 279.01,268.01 294.00,260.00" fill="#fdfdc4" stroke="#000" stroke-width="1"/>
<polygon points="285.12,249.18 285.48,248.89 285.85,248.62 286.22,248.36 286.61,248.11 287.00,247.88 287.40,247.65 294.00,260.00" fill="#fdfdc4" stroke="#000" stroke-width="1"/>
<polygon points="280.04,242.99 280.61,242.55 281.19,242.12 281.78,241.71 282.38,241.32 283.00,240.95 283.63,240.60 287.40,247.65 287.00,247.88 286.61,248.11 286.22,248.36 285.85,248.62 285.48,248.89 285.12,249.18" fill="#ffff00" stroke="#000" stroke-width="1"/>
<polygon points="276.87,239.13 277.56,238.58 278.27,238.05 279.00,237.55 279.74,237.07 280.50,236.62 281.27,236.19 283.63,240.60 283.00,240.95 282.38,241.32 281.78,241.71 281.19,242.12 280.61,242.55 280.04,242.99" fill="#00ff00" stroke="#000" stroke-width="1"/>
<polygon points="288.34,249.42 288.69,249.24 289.05,249.07 289.41,248.91 289.77,248.77 290.14,248.64 290.52,248.52 294.00,260.00" fill="#fdfdc4" stroke="#000" stroke-width="1"/>
<polygon points="283.63,240.60 284.27,240.27 284.92,239.96 285.58,239.67 286.25,239.41 286.93,239.17 287.61,238.95 290.52,248.52 290.14,248.64 289.77,248.77 289.41,248.91 289.05,249.07 288.69,249.24 288.34,249.42" fill="#ffff00" stroke="#000" stroke-width="1"/>
<polygon points="291.10,250.43 291.41,250.34 291.73,250.26 292.05,250.19 292.37,250.13 292.69,250.09 293.02,250.05 294.00,260.00" fill="#fdfdc4" stroke="#000" stroke-width="1"/>
<polygon points="288.19,240.86 288.82,240.68 289.46,240.52 290.10,240.38 290.74,240.27 291.39,240.17 292.04,240.10 293.02,250.05 292.69,250.09 292.37,250.13 292.05,250.19 291.73,250.26 291.41,250.34 291.10,250.43" fill="#ffff00" stroke="#000" stroke-width="1"/>
<polygon points="293.41,254.03 293.61,254.01 293.80,254.00 294.00,254.00 294.20,254.00 294.39,254.01 294.59,254.03 294.00,260.00" fill="#fdfdc4" stroke="#000" stroke-width="1"/>
<polygon points="293.02,250.05 293.35,250.02 293.67,250.01 294.00,250.00 294.33,250.01 294.65,250.02 294.98,250.05 294.59,254.03 294.39,254.01 294.20,254.00 294.00,254.00 293.80,254.00 293.61,254.01 293.41,254.03" fill="#ffff00" stroke="#000" stroke-width="1"/>
<polygon points="292.14,241.09 292.76,241.04 293.38,241.01 294.00,241.00 294.62,241.01 295.24,241.04 295.86,241.09 294.98,250.05 294.65,250.02 294.33,250.01 294.00,250.00 293.67,250.01 293.35,250.02 293.02,250.05" fill="#00ff00" stroke="#000" stroke-width="1"/>
<polygon points="294.59,254.03 294.78,254.05 294.98,254.08 295.17,254.12 295.36,254.16 295.55,254.20 295.74,254.26 294.00,260.00" fill="#fdfdc4" stroke="#000" stroke-width="1"/>
<polygon points="295.13,248.56 295.50,248.60 295.87,248.65 296.24,248.72 296.61,248.80 296.98,248.89 297.34,249.00 295.74,254.26 295.55,254.20 295.36,254.16 295.17,254.12 294.98,254.08 294.78,254.05 294.59,254.03" fill="#ffff00" stroke="#000" stroke-width="1"/>
<polygon points="295.67,243.08 296.22,243.15 296.77,243.23 297.32,243.33 297.86,243.44 298.40,243.58 298.93,243.73 297.34,249.00 296.98,248.89 296.61,248.80 296.24,248.72 295.87,248.65 295.50,248.60 295.13,248.56" fill="#00ff00" stroke="#000" stroke-width="1"/>
<polygon points="295.16,256.17 295.29,256.21 295.41,256.26 295.53,256.30 295.65,256.36 295.77,256.41 295.89,256.47 294.00,260.00" fill="#fdfdc4" stroke="#000" stroke-width="1"/>
<polygon points="296.61,251.39 296.89,251.48 297.17,251.58 297.44,251.69 297.71,251.80 297.98,251.93 298.24,252.06 295.89,256.47 295.77,256.41 295.65,256.36 295.53,256.30 295.41,256.26 295.29,256.21 295.16,256.17" fill="#ffff00" stroke="#000" stroke-width="1"/>
<polygon points="296.59,255.15 296.75,255.24 296.90,255.33 297.06,255.43 297.20,255.53 297.35,255.64 297.49,255.75 294.00,260.00" fill="#fdfdc4" stroke="#000" stroke-width="1"/>
<polygon points="297.49,255.75 297.63,255.86 297.76,255.99 297.89,256.11 298.01,256.24 298.14,256.37 298.25,256.51 294.00,260.00" fill="#fdfdc4" stroke="#000" stroke-width="1"/>
<polygon points="298.64,256.19 298.76,256.35 298.88,256.51 298.99,256.67 299.10,256.83 299.20,257.00 299.29,257.17 294.00,260.00" fill="#fdfdc4" stroke="#000" stroke-width="1"/>
<polygon points="299.29,257.17 299.38,257.35 299.47,257.52 299.54,257.70 299.62,257.89 299.68,258.07 299.74,258.26 294.00,260.00" fill="#fdfdc4" stroke="#000" stroke-width="1"/>
<polygon points="299.74,258.26 299.80,258.45 299.84,258.64 299.88,258.83 299.92,259.02 299.95,259.22 299.97,259.41 294.00,260.00" fill="#fdfdc4" stroke="#000" stroke-width="1"/>
<polygon points="299.97,259.41 299.99,259.61 300.00,259.80 300.00,260.00 300.00,260.20 299.99,260.39 299.97,260.59 294.00,260.00" fill="#fdfdc4" stroke="#000" stroke-width="1"/>
<polygon points="297.98,260.39 297.97,260.52 297.95,260.65 297.92,260.78 297.90,260.91 297.86,261.04 297.83,261.16 294.00,260.00" fill="#fdfdc4" stroke="#000" stroke-width="1"/>
<polygon points="299.97,260.59 299.95,260.78 299.92,260.98 299.88,261.17 299.84,261.36 299.80,261.55 299.74,261.74 297.83,261.16 297.86,261.04 297.90,260.91 297.92,260.78 297.95,260.65 297.97,260.52 297.98,260.39" fill="#ffff00" stroke="#000" stroke-width="1"/>
<polygon points="306.24,261.21 306.19,261.61 306.14,262.00 306.06,262.40 305.98,262.79 305.88,263.18 305.77,263.57 299.74,261.74 299.80,261.55 299.84,261.36 299.88,261.17 299.92,260.98 299.95,260.78 299.97,260.59" fill="#00ff00" stroke="#000" stroke-width="1"/>
<polygon points="297.83,261.16 297.79,261.29 297.74,261.41 297.70,261.53 297.64,261.65 297.59,261.77 297.53,261.89 294.00,260.00" fill="#fdfdc4" stroke="#000" stroke-width="1"/>
<polygon points="302.61,262.61 302.52,262.89 302.42,263.17 302.31,263.44 302.20,263.71 302.07,263.98 301.94,264.24 297.53,261.89 297.59,261.77 297.64,261.65 297.70,261.53 297.74,261.41 297.79,261.29 297.83,261.16" fill="#ffff00" stroke="#000" stroke-width="1"/>
<polygon points="312.85,265.72 312.65,266.33 312.44,266.94 312.20,267.54 311.94,268.13 311.67,268.71 311.37,269.29 301.94,264.24 302.07,263.98 302.20,263.71 302.31,263.44 302.42,263.17 302.52,262.89 302.61,262.61" fill="#00ff00" stroke="#000" stroke-width="1"/>
<polygon points="297.53,261.89 297.46,262.00 297.40,262.11 297.33,262.22 297.25,262.33 297.17,262.44 297.09,262.54 294.00,260.00" fill="#fdfdc4" stroke="#000" stroke-width="1"/>
<polygon points="306.08,266.46 305.86,266.85 305.63,267.23 305.39,267.61 305.14,267.98 304.87,268.34 304.59,268.69 297.09,262.54 297.17,262.44 297.25,262.33 297.33,262.22 297.40,262.11 297.46,262.00 297.53,261.89" fill="#ffff00" stroke="#000" stroke-width="1"/>
<polygon points="313.76,270.56 313.40,271.20 313.02,271.83 312.62,272.44 312.21,273.05 311.77,273.64 311.32,274.21 304.59,268.69 304.87,268.34 305.14,267.98 305.39,267.61 305.63,267.23 305.86,266.85 306.08,266.46" fill="#00ff00" stroke="#000" stroke-width="1"/>
<polygon points="297.09,262.54 297.01,262.64 296.92,262.73 296.83,262.83 296.73,262.92 296.64,263.01 296.54,263.09 294.00,260.00" fill="#fdfdc4" stroke="#000" stroke-width="1"/>
<polygon points="316.42,278.40 315.80,279.12 315.17,279.82 314.51,280.51 313.82,281.17 313.12,281.80 312.40,282.42 296.54,263.09 296.64,263.01 296.73,262.92 296.83,262.83 296.92,262.73 297.01,262.64 297.09,262.54" fill="#ffff00" stroke="#000" stroke-width="1"/>
<polygon points="296.54,263.09 296.44,263.17 296.33,263.25 296.22,263.33 296.11,263.40 296.00,263.46 295.89,263.53 294.00,260.00" fill="#fdfdc4" stroke="#000" stroke-width="1"/>
<polygon points="311.13,280.87 310.44,281.42 309.73,281.95 309.00,282.45 308.26,282.93 307.50,283.38 306.73,283.81 295.89,263.53 296.00,263.46 296.11,263.40 296.22,263.33 296.33,263.25 296.44,263.17 296.54,263.09" fill="#ffff00" stroke="#000" stroke-width="1"/>
<polygon points="295.89,263.53 295.77,263.59 295.65,263.64 295.53,263.70 295.41,263.74 295.29,263.79 295.16,263.83 294.00,260.00" fill="#fdfdc4" stroke="#000" stroke-width="1"/>
<polygon points="306.26,282.93 305.50,283.32 304.73,283.68 303.95,284.02 303.16,284.33 302.36,284.62 301.55,284.88 295.16,263.83 295.29,263.79 295.41,263.74 295.53,263.70 295.65,263.64 295.77,263.59 295.89,263.53" fill="#ffff00" stroke="#000" stroke-width="1"/>
</g>
<g>
<text x="295" y="232" text-anchor="middle" font-size="11" fill="#000">2,3</text>
<text x="295" y="207" text-anchor="middle" font-size="11" fill="#000">4,6</text>
<text x="295" y="182" text-anchor="middle" font-size="11" fill="#000">6,9</text>
<text x="295" y="157" text-anchor="middle" font-size="11" fill="#000">9,2</text>
<text x="295" y="132" text-anchor="middle" font-size="11" fill="#000">11,4</text>
<text x="295" y="107" text-anchor="middle" font-size="11" fill="#000">13,7</text>
<text x="295" y="82" text-anchor="middle" font-size="11" fill="#000">16,0</text>
<text x="295" y="57" text-anchor="middle" font-size="11" fill="#000">18,3</text>
</g>
<text x="297" y="42" text-anchor="middle" font-size="16" font-weight="bold">N</text>
<text x="296" y="494" text-anchor="middle" font-size="16" font-weight="bold">S</text>
<text x="61" y="270" text-anchor="middle" font-size="16" font-weight="bold">W</text>
<text x="531.5" y="270" text-anchor="middle" font-size="16" font-weight="bold">E</text>
<rect x="590.5" y="43.5" width="23" height="23" fill="#fdfdc4" stroke="#000" stroke-width="1"/>
<text x="632" y="62" font-size="16" textLength="78" lengthAdjust="spacing">a 7,4 km/h</text>
<text x="632" y="79.5" font-size="16" textLength="65.5" lengthAdjust="spacing">Ventolina</text>
<rect x="590.5" y="89.5" width="23" height="23" fill="#ffff00" stroke="#000" stroke-width="1"/>
<text x="632" y="108" font-size="16" textLength="86.5" lengthAdjust="spacing">a 12,9 km/h</text>
<text x="632" y="125.5" font-size="16" textLength="43.5" lengthAdjust="spacing">Flojito</text>
<rect x="590.5" y="135.5" width="23" height="23" fill="#00ff00" stroke="#000" stroke-width="1"/>
<text x="632" y="154" font-size="16" textLength="86.5" lengthAdjust="spacing">a 20,4 km/h</text>
<text x="632" y="171.5" font-size="16" textLength="34" lengthAdjust="spacing">Flojo</text>
<rect x="590.5" y="181.5" width="23" height="23" fill="#ff8000" stroke="#000" stroke-width="1"/>
<text x="632" y="200" font-size="16" textLength="86.5" lengthAdjust="spacing">a 29,6 km/h</text>
<text x="632" y="217.5" font-size="16" textLength="76" lengthAdjust="spacing">Bonancible</text>
<rect x="590.5" y="227.5" width="23" height="23" fill="#ff0000" stroke="#000" stroke-width="1"/>
<text x="632" y="246" font-size="16" textLength="86.5" lengthAdjust="spacing">a 38,9 km/h</text>
<text x="632" y="263.5" font-size="16" textLength="64.5" lengthAdjust="spacing">Fresquito</text>
<rect x="590.5" y="273.5" width="23" height="23" fill="#800080" stroke="#000" stroke-width="1"/>
<text x="632" y="292" font-size="16" textLength="86.5" lengthAdjust="spacing">a 50,0 km/h</text>
<text x="632" y="309.5" font-size="16" textLength="44.5" lengthAdjust="spacing">Fresco</text>
<rect x="590.5" y="319.5" width="23" height="23" fill="#646a64" stroke="#000" stroke-width="1"/>
<text x="632" y="338" font-size="16" textLength="86.5" lengthAdjust="spacing">a 63,0 km/h</text>
<text x="632" y="355.5" font-size="16" textLength="76" lengthAdjust="spacing">Frescachón</text>
<rect x="590.5" y="365.5" width="23" height="23" fill="#232226" stroke="#000" stroke-width="1"/>
<text x="632" y="384" font-size="16" textLength="130" lengthAdjust="spacing">más de 63,0 km/h</text>
<text x="632" y="401.5" font-size="16" textLength="67.5" lengthAdjust="spacing">Temporal</text>
<text x="750" y="495" font-size="11.5" textLength="42" lengthAdjust="spacing">feb 2026</text>
</svg>
</body></html>
